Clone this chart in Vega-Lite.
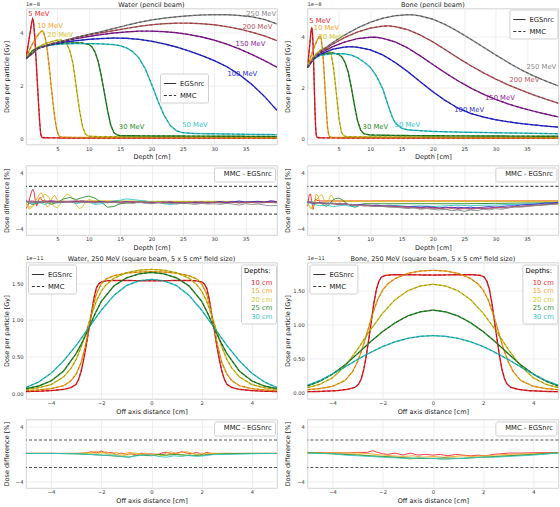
{
"$schema": "https://vega.github.io/schema/vega-lite/v6.json",
"padding": {"left": 3, "top": 0.5, "right": 0, "bottom": 0},
"config": {
 "font": "DejaVu Sans",
 "view": {"stroke": "#c8c8c8", "strokeWidth": 0.8},
 "axis": {"labelFontSize": 5.2, "titleFontSize": 6.5, "labelColor": "#333333", "titleColor": "#222222", "titleFontWeight": "normal", "gridColor": "#e6e6e6", "gridWidth": 0.7, "domain": false, "ticks": false, "tickSize": 0, "labelPadding": 3},
 "axisX": {"labelPadding": 1.5, "titlePadding": 2.5},
 "axisY": {"minExtent": 14.5, "maxExtent": 14.5, "titlePadding": 2},
 "title": {"fontSize": 6.5, "fontWeight": "normal", "color": "#222222", "offset": -6},
 "legend": {"labelFontSize": 6.8, "titleFontSize": 6.8, "titleFontWeight": "normal", "fillColor": "white", "strokeColor": "#d0d0d0", "padding": 3, "cornerRadius": 2, "labelColor": "#222222", "symbolStrokeColor": "#333333", "symbolBaseStrokeColor": "#333333", "symbolSize": 150, "symbolStrokeWidth": 1.2, "rowPadding": 1, "labelOffset": 3}
},
"datasets": {
 "wdd": [
  {"e":"5 MeV","x":0,"y":3.0},{"e":"5 MeV","x":0.5,"y":3.75},{"e":"5 MeV","x":0.9,"y":4.35},{"e":"5 MeV","x":1.05,"y":4.5},{"e":"5 MeV","x":1.2,"y":4.4},{"e":"5 MeV","x":1.4,"y":3.8},{"e":"5 MeV","x":1.6,"y":3.0},{"e":"5 MeV","x":1.8,"y":2.15},{"e":"5 MeV","x":2.0,"y":1.3},{"e":"5 MeV","x":2.2,"y":0.55},{"e":"5 MeV","x":2.35,"y":0.15},{"e":"5 MeV","x":2.5,"y":0.04},{"e":"5 MeV","x":2.8,"y":0.02},{"e":"5 MeV","x":5,"y":0.015},{"e":"5 MeV","x":10,"y":0.01},{"e":"5 MeV","x":20,"y":0.01},{"e":"5 MeV","x":30,"y":0.01},{"e":"5 MeV","x":40,"y":0.01},
  {"e":"10 MeV","x":0,"y":3.0},{"e":"10 MeV","x":0.5,"y":3.3},{"e":"10 MeV","x":1,"y":3.55},{"e":"10 MeV","x":1.5,"y":3.75},{"e":"10 MeV","x":2,"y":3.92},{"e":"10 MeV","x":2.4,"y":4.03},{"e":"10 MeV","x":2.6,"y":4.05},{"e":"10 MeV","x":2.8,"y":4.0},{"e":"10 MeV","x":3.1,"y":3.75},{"e":"10 MeV","x":3.4,"y":3.3},{"e":"10 MeV","x":3.7,"y":2.7},{"e":"10 MeV","x":4,"y":2.0},{"e":"10 MeV","x":4.3,"y":1.35},{"e":"10 MeV","x":4.6,"y":0.75},{"e":"10 MeV","x":4.9,"y":0.32},{"e":"10 MeV","x":5.2,"y":0.1},{"e":"10 MeV","x":5.5,"y":0.05},{"e":"10 MeV","x":6,"y":0.04},{"e":"10 MeV","x":10,"y":0.03},{"e":"10 MeV","x":20,"y":0.03},{"e":"10 MeV","x":30,"y":0.025},{"e":"10 MeV","x":40,"y":0.02},
  {"e":"20 MeV","x":0,"y":3.0},{"e":"20 MeV","x":1,"y":3.3},{"e":"20 MeV","x":2,"y":3.45},{"e":"20 MeV","x":3,"y":3.56},{"e":"20 MeV","x":4,"y":3.64},{"e":"20 MeV","x":5,"y":3.7},{"e":"20 MeV","x":5.5,"y":3.71},{"e":"20 MeV","x":6,"y":3.67},{"e":"20 MeV","x":6.5,"y":3.55},{"e":"20 MeV","x":7,"y":3.3},{"e":"20 MeV","x":7.5,"y":2.8},{"e":"20 MeV","x":8,"y":1.95},{"e":"20 MeV","x":8.5,"y":1.1},{"e":"20 MeV","x":9,"y":0.45},{"e":"20 MeV","x":9.5,"y":0.15},{"e":"20 MeV","x":10,"y":0.08},{"e":"20 MeV","x":12,"y":0.06},{"e":"20 MeV","x":20,"y":0.05},{"e":"20 MeV","x":30,"y":0.045},{"e":"20 MeV","x":40,"y":0.04},
  {"e":"30 MeV","x":0,"y":3.0},{"e":"30 MeV","x":1,"y":3.3},{"e":"30 MeV","x":2,"y":3.42},{"e":"30 MeV","x":4,"y":3.53},{"e":"30 MeV","x":6,"y":3.58},{"e":"30 MeV","x":8,"y":3.6},{"e":"30 MeV","x":9,"y":3.59},{"e":"30 MeV","x":10,"y":3.54},{"e":"30 MeV","x":10.5,"y":3.45},{"e":"30 MeV","x":11,"y":3.25},{"e":"30 MeV","x":11.5,"y":2.9},{"e":"30 MeV","x":12,"y":2.35},{"e":"30 MeV","x":12.5,"y":1.7},{"e":"30 MeV","x":13,"y":1.05},{"e":"30 MeV","x":13.5,"y":0.5},{"e":"30 MeV","x":14,"y":0.22},{"e":"30 MeV","x":14.5,"y":0.13},{"e":"30 MeV","x":15,"y":0.1},{"e":"30 MeV","x":20,"y":0.09},{"e":"30 MeV","x":30,"y":0.08},{"e":"30 MeV","x":40,"y":0.07},
  {"e":"50 MeV","x":0,"y":3.0},{"e":"50 MeV","x":2,"y":3.42},{"e":"50 MeV","x":4,"y":3.52},{"e":"50 MeV","x":6,"y":3.56},{"e":"50 MeV","x":8,"y":3.57},{"e":"50 MeV","x":10,"y":3.57},{"e":"50 MeV","x":12,"y":3.56},{"e":"50 MeV","x":14,"y":3.53},{"e":"50 MeV","x":15,"y":3.49},{"e":"50 MeV","x":16,"y":3.41},{"e":"50 MeV","x":17,"y":3.27},{"e":"50 MeV","x":18,"y":3.03},{"e":"50 MeV","x":19,"y":2.62},{"e":"50 MeV","x":20,"y":2.05},{"e":"50 MeV","x":21,"y":1.42},{"e":"50 MeV","x":22,"y":0.87},{"e":"50 MeV","x":23,"y":0.48},{"e":"50 MeV","x":24,"y":0.28},{"e":"50 MeV","x":25,"y":0.21},{"e":"50 MeV","x":27,"y":0.18},{"e":"50 MeV","x":30,"y":0.17},{"e":"50 MeV","x":35,"y":0.15},{"e":"50 MeV","x":40,"y":0.14},
  {"e":"100 MeV","x":0,"y":3.0},{"e":"100 MeV","x":2,"y":3.4},{"e":"100 MeV","x":4,"y":3.53},{"e":"100 MeV","x":6,"y":3.62},{"e":"100 MeV","x":8,"y":3.68},{"e":"100 MeV","x":10,"y":3.73},{"e":"100 MeV","x":12,"y":3.76},{"e":"100 MeV","x":14,"y":3.78},{"e":"100 MeV","x":16,"y":3.77},{"e":"100 MeV","x":18,"y":3.73},{"e":"100 MeV","x":20,"y":3.66},{"e":"100 MeV","x":22,"y":3.56},{"e":"100 MeV","x":24,"y":3.44},{"e":"100 MeV","x":26,"y":3.29},{"e":"100 MeV","x":28,"y":3.12},{"e":"100 MeV","x":30,"y":2.93},{"e":"100 MeV","x":32,"y":2.7},{"e":"100 MeV","x":34,"y":2.4},{"e":"100 MeV","x":36,"y":2.03},{"e":"100 MeV","x":38,"y":1.58},{"e":"100 MeV","x":40,"y":1.05},
  {"e":"150 MeV","x":0,"y":3.0},{"e":"150 MeV","x":2,"y":3.4},{"e":"150 MeV","x":4,"y":3.55},{"e":"150 MeV","x":6,"y":3.66},{"e":"150 MeV","x":8,"y":3.76},{"e":"150 MeV","x":10,"y":3.84},{"e":"150 MeV","x":12,"y":3.91},{"e":"150 MeV","x":14,"y":3.97},{"e":"150 MeV","x":16,"y":4.01},{"e":"150 MeV","x":18,"y":4.04},{"e":"150 MeV","x":20,"y":4.04},{"e":"150 MeV","x":22,"y":4.02},{"e":"150 MeV","x":24,"y":3.98},{"e":"150 MeV","x":26,"y":3.91},{"e":"150 MeV","x":28,"y":3.82},{"e":"150 MeV","x":30,"y":3.7},{"e":"150 MeV","x":32,"y":3.55},{"e":"150 MeV","x":34,"y":3.37},{"e":"150 MeV","x":36,"y":3.16},{"e":"150 MeV","x":38,"y":2.93},{"e":"150 MeV","x":40,"y":2.68},
  {"e":"200 MeV","x":0,"y":3.0},{"e":"200 MeV","x":2,"y":3.4},{"e":"200 MeV","x":4,"y":3.56},{"e":"200 MeV","x":6,"y":3.68},{"e":"200 MeV","x":8,"y":3.8},{"e":"200 MeV","x":10,"y":3.9},{"e":"200 MeV","x":12,"y":3.98},{"e":"200 MeV","x":14,"y":4.06},{"e":"200 MeV","x":16,"y":4.14},{"e":"200 MeV","x":18,"y":4.22},{"e":"200 MeV","x":20,"y":4.28},{"e":"200 MeV","x":22,"y":4.32},{"e":"200 MeV","x":24,"y":4.34},{"e":"200 MeV","x":26,"y":4.34},{"e":"200 MeV","x":28,"y":4.32},{"e":"200 MeV","x":30,"y":4.28},{"e":"200 MeV","x":32,"y":4.21},{"e":"200 MeV","x":34,"y":4.12},{"e":"200 MeV","x":36,"y":4.0},{"e":"200 MeV","x":38,"y":3.86},{"e":"200 MeV","x":40,"y":3.68},
  {"e":"250 MeV","x":0,"y":3.0},{"e":"250 MeV","x":2,"y":3.4},{"e":"250 MeV","x":4,"y":3.56},{"e":"250 MeV","x":6,"y":3.68},{"e":"250 MeV","x":8,"y":3.8},{"e":"250 MeV","x":10,"y":3.92},{"e":"250 MeV","x":12,"y":4.02},{"e":"250 MeV","x":14,"y":4.14},{"e":"250 MeV","x":16,"y":4.26},{"e":"250 MeV","x":18,"y":4.37},{"e":"250 MeV","x":20,"y":4.46},{"e":"250 MeV","x":22,"y":4.53},{"e":"250 MeV","x":24,"y":4.58},{"e":"250 MeV","x":26,"y":4.62},{"e":"250 MeV","x":28,"y":4.65},{"e":"250 MeV","x":30,"y":4.66},{"e":"250 MeV","x":32,"y":4.66},{"e":"250 MeV","x":34,"y":4.63},{"e":"250 MeV","x":36,"y":4.58},{"e":"250 MeV","x":38,"y":4.48},{"e":"250 MeV","x":40,"y":4.31}
 ],
 "bdd": [
  {"e":"5 MeV","x":0,"y":2.78},{"e":"5 MeV","x":0.2,"y":3.25},{"e":"5 MeV","x":0.4,"y":3.75},{"e":"5 MeV","x":0.55,"y":4.15},{"e":"5 MeV","x":0.68,"y":4.35},{"e":"5 MeV","x":0.8,"y":4.2},{"e":"5 MeV","x":0.9,"y":3.7},{"e":"5 MeV","x":1.0,"y":2.9},{"e":"5 MeV","x":1.1,"y":2.0},{"e":"5 MeV","x":1.2,"y":1.15},{"e":"5 MeV","x":1.3,"y":0.5},{"e":"5 MeV","x":1.4,"y":0.15},{"e":"5 MeV","x":1.5,"y":0.05},{"e":"5 MeV","x":1.8,"y":0.02},{"e":"5 MeV","x":5,"y":0.015},{"e":"5 MeV","x":20,"y":0.01},{"e":"5 MeV","x":40,"y":0.01},
  {"e":"10 MeV","x":0,"y":2.78},{"e":"10 MeV","x":0.4,"y":3.1},{"e":"10 MeV","x":0.8,"y":3.4},{"e":"10 MeV","x":1.2,"y":3.65},{"e":"10 MeV","x":1.6,"y":3.88},{"e":"10 MeV","x":1.9,"y":4.0},{"e":"10 MeV","x":2.05,"y":4.02},{"e":"10 MeV","x":2.2,"y":3.9},{"e":"10 MeV","x":2.4,"y":3.5},{"e":"10 MeV","x":2.6,"y":2.85},{"e":"10 MeV","x":2.8,"y":2.0},{"e":"10 MeV","x":3.0,"y":1.15},{"e":"10 MeV","x":3.2,"y":0.45},{"e":"10 MeV","x":3.4,"y":0.12},{"e":"10 MeV","x":3.6,"y":0.05},{"e":"10 MeV","x":4,"y":0.035},{"e":"10 MeV","x":10,"y":0.03},{"e":"10 MeV","x":20,"y":0.025},{"e":"10 MeV","x":40,"y":0.02},
  {"e":"20 MeV","x":0,"y":2.78},{"e":"20 MeV","x":0.5,"y":3.05},{"e":"20 MeV","x":1,"y":3.22},{"e":"20 MeV","x":1.5,"y":3.35},{"e":"20 MeV","x":2,"y":3.45},{"e":"20 MeV","x":2.5,"y":3.53},{"e":"20 MeV","x":3,"y":3.56},{"e":"20 MeV","x":3.4,"y":3.5},{"e":"20 MeV","x":3.8,"y":3.3},{"e":"20 MeV","x":4.2,"y":2.7},{"e":"20 MeV","x":4.6,"y":1.8},{"e":"20 MeV","x":5.0,"y":0.85},{"e":"20 MeV","x":5.4,"y":0.25},{"e":"20 MeV","x":5.8,"y":0.1},{"e":"20 MeV","x":6.2,"y":0.07},{"e":"20 MeV","x":7,"y":0.06},{"e":"20 MeV","x":10,"y":0.055},{"e":"20 MeV","x":20,"y":0.05},{"e":"20 MeV","x":40,"y":0.04},
  {"e":"30 MeV","x":0,"y":2.78},{"e":"30 MeV","x":1,"y":3.12},{"e":"30 MeV","x":2,"y":3.27},{"e":"30 MeV","x":3,"y":3.34},{"e":"30 MeV","x":4,"y":3.36},{"e":"30 MeV","x":5,"y":3.3},{"e":"30 MeV","x":5.5,"y":3.2},{"e":"30 MeV","x":6,"y":2.98},{"e":"30 MeV","x":6.5,"y":2.6},{"e":"30 MeV","x":7,"y":2.0},{"e":"30 MeV","x":7.5,"y":1.3},{"e":"30 MeV","x":8,"y":0.68},{"e":"30 MeV","x":8.5,"y":0.32},{"e":"30 MeV","x":9,"y":0.18},{"e":"30 MeV","x":10,"y":0.13},{"e":"30 MeV","x":15,"y":0.11},{"e":"30 MeV","x":20,"y":0.1},{"e":"30 MeV","x":30,"y":0.09},{"e":"30 MeV","x":40,"y":0.08},
  {"e":"50 MeV","x":0,"y":2.78},{"e":"50 MeV","x":1,"y":3.12},{"e":"50 MeV","x":2,"y":3.26},{"e":"50 MeV","x":4,"y":3.33},{"e":"50 MeV","x":6,"y":3.32},{"e":"50 MeV","x":7,"y":3.27},{"e":"50 MeV","x":8,"y":3.17},{"e":"50 MeV","x":9,"y":3.0},{"e":"50 MeV","x":10,"y":2.8},{"e":"50 MeV","x":11,"y":2.45},{"e":"50 MeV","x":12,"y":1.95},{"e":"50 MeV","x":13,"y":1.2},{"e":"50 MeV","x":13.5,"y":0.85},{"e":"50 MeV","x":14,"y":0.6},{"e":"50 MeV","x":15,"y":0.4},{"e":"50 MeV","x":16,"y":0.33},{"e":"50 MeV","x":18,"y":0.3},{"e":"50 MeV","x":20,"y":0.27},{"e":"50 MeV","x":25,"y":0.24},{"e":"50 MeV","x":30,"y":0.22},{"e":"50 MeV","x":35,"y":0.2},{"e":"50 MeV","x":40,"y":0.18},
  {"e":"100 MeV","x":0,"y":2.78},{"e":"100 MeV","x":1,"y":3.12},{"e":"100 MeV","x":2,"y":3.3},{"e":"100 MeV","x":4,"y":3.5},{"e":"100 MeV","x":6,"y":3.59},{"e":"100 MeV","x":7,"y":3.6},{"e":"100 MeV","x":8,"y":3.58},{"e":"100 MeV","x":10,"y":3.48},{"e":"100 MeV","x":12,"y":3.28},{"e":"100 MeV","x":14,"y":2.98},{"e":"100 MeV","x":16,"y":2.62},{"e":"100 MeV","x":18,"y":2.22},{"e":"100 MeV","x":20,"y":1.83},{"e":"100 MeV","x":22,"y":1.48},{"e":"100 MeV","x":24,"y":1.19},{"e":"100 MeV","x":26,"y":0.98},{"e":"100 MeV","x":28,"y":0.84},{"e":"100 MeV","x":30,"y":0.73},{"e":"100 MeV","x":32,"y":0.65},{"e":"100 MeV","x":34,"y":0.58},{"e":"100 MeV","x":36,"y":0.53},{"e":"100 MeV","x":38,"y":0.48},{"e":"100 MeV","x":40,"y":0.44},
  {"e":"150 MeV","x":0,"y":2.78},{"e":"150 MeV","x":1,"y":3.15},{"e":"150 MeV","x":2,"y":3.35},{"e":"150 MeV","x":4,"y":3.6},{"e":"150 MeV","x":6,"y":3.79},{"e":"150 MeV","x":8,"y":3.92},{"e":"150 MeV","x":10,"y":3.97},{"e":"150 MeV","x":11,"y":3.97},{"e":"150 MeV","x":12,"y":3.93},{"e":"150 MeV","x":14,"y":3.79},{"e":"150 MeV","x":16,"y":3.55},{"e":"150 MeV","x":18,"y":3.24},{"e":"150 MeV","x":20,"y":2.9},{"e":"150 MeV","x":22,"y":2.57},{"e":"150 MeV","x":24,"y":2.26},{"e":"150 MeV","x":26,"y":1.98},{"e":"150 MeV","x":28,"y":1.74},{"e":"150 MeV","x":30,"y":1.53},{"e":"150 MeV","x":32,"y":1.35},{"e":"150 MeV","x":34,"y":1.2},{"e":"150 MeV","x":36,"y":1.07},{"e":"150 MeV","x":38,"y":0.95},{"e":"150 MeV","x":40,"y":0.84},
  {"e":"200 MeV","x":0,"y":2.78},{"e":"200 MeV","x":1,"y":3.15},{"e":"200 MeV","x":2,"y":3.38},{"e":"200 MeV","x":4,"y":3.7},{"e":"200 MeV","x":6,"y":3.97},{"e":"200 MeV","x":8,"y":4.18},{"e":"200 MeV","x":10,"y":4.33},{"e":"200 MeV","x":12,"y":4.41},{"e":"200 MeV","x":13,"y":4.42},{"e":"200 MeV","x":14,"y":4.39},{"e":"200 MeV","x":16,"y":4.27},{"e":"200 MeV","x":18,"y":4.06},{"e":"200 MeV","x":20,"y":3.79},{"e":"200 MeV","x":22,"y":3.48},{"e":"200 MeV","x":24,"y":3.16},{"e":"200 MeV","x":26,"y":2.86},{"e":"200 MeV","x":28,"y":2.58},{"e":"200 MeV","x":30,"y":2.33},{"e":"200 MeV","x":32,"y":2.1},{"e":"200 MeV","x":34,"y":1.9},{"e":"200 MeV","x":36,"y":1.71},{"e":"200 MeV","x":38,"y":1.54},{"e":"200 MeV","x":40,"y":1.38},
  {"e":"250 MeV","x":0,"y":2.78},{"e":"250 MeV","x":1,"y":3.16},{"e":"250 MeV","x":2,"y":3.4},{"e":"250 MeV","x":4,"y":3.76},{"e":"250 MeV","x":6,"y":4.07},{"e":"250 MeV","x":8,"y":4.34},{"e":"250 MeV","x":10,"y":4.56},{"e":"250 MeV","x":12,"y":4.72},{"e":"250 MeV","x":14,"y":4.82},{"e":"250 MeV","x":16,"y":4.86},{"e":"250 MeV","x":17,"y":4.85},{"e":"250 MeV","x":18,"y":4.81},{"e":"250 MeV","x":20,"y":4.68},{"e":"250 MeV","x":22,"y":4.47},{"e":"250 MeV","x":24,"y":4.2},{"e":"250 MeV","x":26,"y":3.9},{"e":"250 MeV","x":28,"y":3.59},{"e":"250 MeV","x":30,"y":3.28},{"e":"250 MeV","x":32,"y":2.98},{"e":"250 MeV","x":34,"y":2.7},{"e":"250 MeV","x":36,"y":2.46},{"e":"250 MeV","x":38,"y":2.25},{"e":"250 MeV","x":40,"y":2.06}
 ],
 "wlab": [
  {"e":"5 MeV","x":0.37,"y":4.69},{"e":"10 MeV","x":1.8,"y":4.24},{"e":"20 MeV","x":3.4,"y":3.9},{"e":"30 MeV","x":14.8,"y":0.43},{"e":"50 MeV","x":24.9,"y":0.49},{"e":"100 MeV","x":32.1,"y":2.43},{"e":"150 MeV","x":33.4,"y":3.56},{"e":"200 MeV","x":34.5,"y":4.19},{"e":"250 MeV","x":35.1,"y":4.69}
 ],
 "blab": [
  {"e":"5 MeV","x":0.31,"y":4.61},{"e":"10 MeV","x":1.0,"y":4.32},{"e":"20 MeV","x":1.75,"y":3.99},{"e":"30 MeV","x":8.8,"y":0.43},{"e":"50 MeV","x":13.9,"y":0.54},{"e":"100 MeV","x":23.4,"y":1.13},{"e":"150 MeV","x":28.3,"y":1.6},{"e":"200 MeV","x":32.2,"y":2.28},{"e":"250 MeV","x":34.9,"y":2.8}
 ],
 "wdf": [
  {"e":"5 MeV","x":0,"y":-1.2},{"e":"5 MeV","x":0.3,"y":-0.8},{"e":"5 MeV","x":0.6,"y":0.3},{"e":"5 MeV","x":0.9,"y":1.3},{"e":"5 MeV","x":1.1,"y":1.6},{"e":"5 MeV","x":1.3,"y":1.1},{"e":"5 MeV","x":1.5,"y":-0.2},{"e":"5 MeV","x":1.7,"y":-0.8},{"e":"5 MeV","x":1.9,"y":-0.4},{"e":"5 MeV","x":2.1,"y":0.3},{"e":"5 MeV","x":2.3,"y":0.4},{"e":"5 MeV","x":2.5,"y":0.0},{"e":"5 MeV","x":3,"y":-0.1},{"e":"5 MeV","x":5,"y":-0.15},{"e":"5 MeV","x":10,"y":-0.15},{"e":"5 MeV","x":15,"y":-0.2},{"e":"5 MeV","x":20,"y":-0.2},{"e":"5 MeV","x":25,"y":-0.2},{"e":"5 MeV","x":30,"y":-0.2},{"e":"5 MeV","x":35,"y":-0.2},{"e":"5 MeV","x":40,"y":-0.2},
  {"e":"10 MeV","x":0,"y":-0.4},{"e":"10 MeV","x":0.5,"y":-1.0},{"e":"10 MeV","x":1.0,"y":-0.9},{"e":"10 MeV","x":1.5,"y":-0.2},{"e":"10 MeV","x":2.0,"y":0.7},{"e":"10 MeV","x":2.4,"y":1.1},{"e":"10 MeV","x":2.8,"y":0.5},{"e":"10 MeV","x":3.1,"y":-0.5},{"e":"10 MeV","x":3.4,"y":-1.0},{"e":"10 MeV","x":3.8,"y":-0.6},{"e":"10 MeV","x":4.2,"y":0.4},{"e":"10 MeV","x":4.6,"y":0.7},{"e":"10 MeV","x":5.0,"y":0.0},{"e":"10 MeV","x":5.5,"y":-0.3},{"e":"10 MeV","x":6,"y":-0.2},{"e":"10 MeV","x":10,"y":-0.1},{"e":"10 MeV","x":15,"y":-0.15},{"e":"10 MeV","x":20,"y":-0.2},{"e":"10 MeV","x":25,"y":-0.2},{"e":"10 MeV","x":30,"y":-0.2},{"e":"10 MeV","x":35,"y":-0.2},{"e":"10 MeV","x":40,"y":-0.2},
  {"e":"20 MeV","x":0,"y":-0.5},{"e":"20 MeV","x":0.5,"y":-1.3},{"e":"20 MeV","x":1.0,"y":-1.0},{"e":"20 MeV","x":1.5,"y":-0.5},{"e":"20 MeV","x":2.0,"y":0.1},{"e":"20 MeV","x":2.5,"y":0.4},{"e":"20 MeV","x":3.0,"y":0.9},{"e":"20 MeV","x":3.5,"y":0.6},{"e":"20 MeV","x":4.0,"y":-0.2},{"e":"20 MeV","x":4.5,"y":-0.9},{"e":"20 MeV","x":5.0,"y":-1.1},{"e":"20 MeV","x":5.5,"y":-0.5},{"e":"20 MeV","x":6.0,"y":0.4},{"e":"20 MeV","x":6.5,"y":0.9},{"e":"20 MeV","x":7.0,"y":0.7},{"e":"20 MeV","x":7.5,"y":0.2},{"e":"20 MeV","x":8.0,"y":-0.7},{"e":"20 MeV","x":8.5,"y":-1.2},{"e":"20 MeV","x":9.0,"y":-1.0},{"e":"20 MeV","x":9.5,"y":-0.2},{"e":"20 MeV","x":10,"y":0.1},{"e":"20 MeV","x":11,"y":-0.1},{"e":"20 MeV","x":15,"y":-0.1},{"e":"20 MeV","x":20,"y":-0.15},{"e":"20 MeV","x":30,"y":-0.15},{"e":"20 MeV","x":40,"y":-0.2},
  {"e":"30 MeV","x":0,"y":-0.2},{"e":"30 MeV","x":1,"y":-0.6},{"e":"30 MeV","x":2,"y":-0.4},{"e":"30 MeV","x":3,"y":-0.1},{"e":"30 MeV","x":4,"y":-0.6},{"e":"30 MeV","x":5,"y":-0.3},{"e":"30 MeV","x":6,"y":0.2},{"e":"30 MeV","x":7,"y":0.4},{"e":"30 MeV","x":8,"y":0.1},{"e":"30 MeV","x":9,"y":0.4},{"e":"30 MeV","x":10,"y":0.6},{"e":"30 MeV","x":11,"y":0.3},{"e":"30 MeV","x":12,"y":-0.3},{"e":"30 MeV","x":13,"y":-1.0},{"e":"30 MeV","x":14,"y":-0.9},{"e":"30 MeV","x":15,"y":-0.5},{"e":"30 MeV","x":16,"y":-0.4},{"e":"30 MeV","x":18,"y":-0.3},{"e":"30 MeV","x":20,"y":-0.3},{"e":"30 MeV","x":25,"y":-0.3},{"e":"30 MeV","x":30,"y":-0.3},{"e":"30 MeV","x":35,"y":-0.3},{"e":"30 MeV","x":40,"y":-0.3},
  {"e":"50 MeV","x":0,"y":-0.1},{"e":"50 MeV","x":1,"y":-0.5},{"e":"50 MeV","x":2,"y":-0.3},{"e":"50 MeV","x":3,"y":-0.6},{"e":"50 MeV","x":4,"y":-0.2},{"e":"50 MeV","x":5,"y":-0.4},{"e":"50 MeV","x":6,"y":-0.3},{"e":"50 MeV","x":7,"y":-0.2},{"e":"50 MeV","x":8,"y":-0.5},{"e":"50 MeV","x":9,"y":-0.3},{"e":"50 MeV","x":10,"y":-0.3},{"e":"50 MeV","x":11,"y":-0.6},{"e":"50 MeV","x":12,"y":-0.5},{"e":"50 MeV","x":13,"y":-0.3},{"e":"50 MeV","x":14,"y":-0.1},{"e":"50 MeV","x":15,"y":0.0},{"e":"50 MeV","x":16,"y":0.2},{"e":"50 MeV","x":17,"y":0.1},{"e":"50 MeV","x":18,"y":0.0},{"e":"50 MeV","x":19,"y":-0.1},{"e":"50 MeV","x":20,"y":-0.3},{"e":"50 MeV","x":21,"y":-0.3},{"e":"50 MeV","x":22,"y":-0.5},{"e":"50 MeV","x":23,"y":-0.6},{"e":"50 MeV","x":24,"y":-0.5},{"e":"50 MeV","x":25,"y":-0.4},{"e":"50 MeV","x":26,"y":-0.4},{"e":"50 MeV","x":27,"y":-0.3},{"e":"50 MeV","x":28,"y":-0.4},{"e":"50 MeV","x":29,"y":-0.3},{"e":"50 MeV","x":30,"y":-0.3},{"e":"50 MeV","x":31,"y":-0.4},{"e":"50 MeV","x":32,"y":-0.3},{"e":"50 MeV","x":33,"y":-0.2},{"e":"50 MeV","x":34,"y":-0.3},{"e":"50 MeV","x":35,"y":-0.3},{"e":"50 MeV","x":36,"y":-0.2},{"e":"50 MeV","x":37,"y":-0.3},{"e":"50 MeV","x":38,"y":-0.3},{"e":"50 MeV","x":39,"y":-0.2},{"e":"50 MeV","x":40,"y":-0.3},
  {"e":"100 MeV","x":0,"y":-0.1},{"e":"100 MeV","x":1,"y":-0.3},{"e":"100 MeV","x":2,"y":-0.2},{"e":"100 MeV","x":3,"y":-0.25},{"e":"100 MeV","x":4,"y":-0.1},{"e":"100 MeV","x":5,"y":-0.2},{"e":"100 MeV","x":6,"y":-0.3},{"e":"100 MeV","x":7,"y":-0.15},{"e":"100 MeV","x":8,"y":-0.2},{"e":"100 MeV","x":9,"y":-0.1},{"e":"100 MeV","x":10,"y":-0.25},{"e":"100 MeV","x":11,"y":-0.3},{"e":"100 MeV","x":12,"y":-0.2},{"e":"100 MeV","x":13,"y":-0.35},{"e":"100 MeV","x":14,"y":-0.25},{"e":"100 MeV","x":15,"y":-0.3},{"e":"100 MeV","x":16,"y":-0.2},{"e":"100 MeV","x":17,"y":-0.35},{"e":"100 MeV","x":18,"y":-0.25},{"e":"100 MeV","x":19,"y":-0.4},{"e":"100 MeV","x":20,"y":-0.3},{"e":"100 MeV","x":21,"y":-0.35},{"e":"100 MeV","x":22,"y":-0.25},{"e":"100 MeV","x":23,"y":-0.4},{"e":"100 MeV","x":24,"y":-0.3},{"e":"100 MeV","x":25,"y":-0.45},{"e":"100 MeV","x":26,"y":-0.3},{"e":"100 MeV","x":27,"y":-0.35},{"e":"100 MeV","x":28,"y":-0.25},{"e":"100 MeV","x":29,"y":-0.4},{"e":"100 MeV","x":30,"y":-0.3},{"e":"100 MeV","x":31,"y":-0.2},{"e":"100 MeV","x":32,"y":-0.35},{"e":"100 MeV","x":33,"y":-0.25},{"e":"100 MeV","x":34,"y":-0.1},{"e":"100 MeV","x":35,"y":-0.3},{"e":"100 MeV","x":36,"y":-0.2},{"e":"100 MeV","x":37,"y":-0.15},{"e":"100 MeV","x":38,"y":-0.3},{"e":"100 MeV","x":39,"y":-0.1},{"e":"100 MeV","x":40,"y":-0.2},
  {"e":"150 MeV","x":0,"y":-0.2},{"e":"150 MeV","x":1,"y":-0.1},{"e":"150 MeV","x":2,"y":-0.3},{"e":"150 MeV","x":3,"y":-0.2},{"e":"150 MeV","x":4,"y":-0.15},{"e":"150 MeV","x":5,"y":-0.3},{"e":"150 MeV","x":6,"y":-0.2},{"e":"150 MeV","x":7,"y":-0.25},{"e":"150 MeV","x":8,"y":-0.1},{"e":"150 MeV","x":9,"y":-0.3},{"e":"150 MeV","x":10,"y":-0.2},{"e":"150 MeV","x":11,"y":-0.35},{"e":"150 MeV","x":12,"y":-0.25},{"e":"150 MeV","x":13,"y":-0.3},{"e":"150 MeV","x":14,"y":-0.2},{"e":"150 MeV","x":15,"y":-0.35},{"e":"150 MeV","x":16,"y":-0.3},{"e":"150 MeV","x":17,"y":-0.2},{"e":"150 MeV","x":18,"y":-0.35},{"e":"150 MeV","x":19,"y":-0.25},{"e":"150 MeV","x":20,"y":-0.4},{"e":"150 MeV","x":21,"y":-0.3},{"e":"150 MeV","x":22,"y":-0.35},{"e":"150 MeV","x":23,"y":-0.2},{"e":"150 MeV","x":24,"y":-0.4},{"e":"150 MeV","x":25,"y":-0.3},{"e":"150 MeV","x":26,"y":-0.35},{"e":"150 MeV","x":27,"y":-0.25},{"e":"150 MeV","x":28,"y":-0.4},{"e":"150 MeV","x":29,"y":-0.3},{"e":"150 MeV","x":30,"y":-0.35},{"e":"150 MeV","x":31,"y":-0.25},{"e":"150 MeV","x":32,"y":-0.3},{"e":"150 MeV","x":33,"y":-0.2},{"e":"150 MeV","x":34,"y":-0.35},{"e":"150 MeV","x":35,"y":-0.25},{"e":"150 MeV","x":36,"y":-0.3},{"e":"150 MeV","x":37,"y":-0.2},{"e":"150 MeV","x":38,"y":-0.25},{"e":"150 MeV","x":39,"y":-0.1},{"e":"150 MeV","x":40,"y":-0.2},
  {"e":"200 MeV","x":0,"y":-0.15},{"e":"200 MeV","x":1,"y":-0.25},{"e":"200 MeV","x":2,"y":-0.2},{"e":"200 MeV","x":3,"y":-0.3},{"e":"200 MeV","x":4,"y":-0.2},{"e":"200 MeV","x":5,"y":-0.25},{"e":"200 MeV","x":6,"y":-0.15},{"e":"200 MeV","x":7,"y":-0.3},{"e":"200 MeV","x":8,"y":-0.25},{"e":"200 MeV","x":9,"y":-0.2},{"e":"200 MeV","x":10,"y":-0.3},{"e":"200 MeV","x":11,"y":-0.2},{"e":"200 MeV","x":12,"y":-0.35},{"e":"200 MeV","x":13,"y":-0.25},{"e":"200 MeV","x":14,"y":-0.3},{"e":"200 MeV","x":15,"y":-0.4},{"e":"200 MeV","x":16,"y":-0.3},{"e":"200 MeV","x":17,"y":-0.35},{"e":"200 MeV","x":18,"y":-0.25},{"e":"200 MeV","x":19,"y":-0.3},{"e":"200 MeV","x":20,"y":-0.4},{"e":"200 MeV","x":21,"y":-0.35},{"e":"200 MeV","x":22,"y":-0.3},{"e":"200 MeV","x":23,"y":-0.45},{"e":"200 MeV","x":24,"y":-0.35},{"e":"200 MeV","x":25,"y":-0.4},{"e":"200 MeV","x":26,"y":-0.3},{"e":"200 MeV","x":27,"y":-0.45},{"e":"200 MeV","x":28,"y":-0.35},{"e":"200 MeV","x":29,"y":-0.4},{"e":"200 MeV","x":30,"y":-0.3},{"e":"200 MeV","x":31,"y":-0.35},{"e":"200 MeV","x":32,"y":-0.45},{"e":"200 MeV","x":33,"y":-0.3},{"e":"200 MeV","x":34,"y":-0.4},{"e":"200 MeV","x":35,"y":-0.35},{"e":"200 MeV","x":36,"y":-0.3},{"e":"200 MeV","x":37,"y":-0.4},{"e":"200 MeV","x":38,"y":-0.35},{"e":"200 MeV","x":39,"y":-0.3},{"e":"200 MeV","x":40,"y":-0.4},
  {"e":"250 MeV","x":0,"y":-0.2},{"e":"250 MeV","x":1,"y":-0.3},{"e":"250 MeV","x":2,"y":-0.25},{"e":"250 MeV","x":3,"y":-0.2},{"e":"250 MeV","x":4,"y":-0.35},{"e":"250 MeV","x":5,"y":-0.25},{"e":"250 MeV","x":6,"y":-0.3},{"e":"250 MeV","x":7,"y":-0.2},{"e":"250 MeV","x":8,"y":-0.35},{"e":"250 MeV","x":9,"y":-0.3},{"e":"250 MeV","x":10,"y":-0.25},{"e":"250 MeV","x":11,"y":-0.4},{"e":"250 MeV","x":12,"y":-0.3},{"e":"250 MeV","x":13,"y":-0.35},{"e":"250 MeV","x":14,"y":-0.25},{"e":"250 MeV","x":15,"y":-0.4},{"e":"250 MeV","x":16,"y":-0.35},{"e":"250 MeV","x":17,"y":-0.45},{"e":"250 MeV","x":18,"y":-0.3},{"e":"250 MeV","x":19,"y":-0.4},{"e":"250 MeV","x":20,"y":-0.5},{"e":"250 MeV","x":21,"y":-0.35},{"e":"250 MeV","x":22,"y":-0.45},{"e":"250 MeV","x":23,"y":-0.4},{"e":"250 MeV","x":24,"y":-0.55},{"e":"250 MeV","x":25,"y":-0.4},{"e":"250 MeV","x":26,"y":-0.5},{"e":"250 MeV","x":27,"y":-0.6},{"e":"250 MeV","x":28,"y":-0.45},{"e":"250 MeV","x":29,"y":-0.55},{"e":"250 MeV","x":30,"y":-0.5},{"e":"250 MeV","x":31,"y":-0.6},{"e":"250 MeV","x":32,"y":-0.45},{"e":"250 MeV","x":33,"y":-0.55},{"e":"250 MeV","x":34,"y":-0.7},{"e":"250 MeV","x":35,"y":-0.5},{"e":"250 MeV","x":36,"y":-0.6},{"e":"250 MeV","x":37,"y":-0.55},{"e":"250 MeV","x":38,"y":-0.7},{"e":"250 MeV","x":39,"y":-0.8},{"e":"250 MeV","x":40,"y":-0.75}
 ],
 "bdf": [
  {"e":"5 MeV","x":0,"y":-0.9},{"e":"5 MeV","x":0.3,"y":0.8},{"e":"5 MeV","x":0.5,"y":0.9},{"e":"5 MeV","x":0.7,"y":-0.2},{"e":"5 MeV","x":0.9,"y":-1.3},{"e":"5 MeV","x":1.1,"y":-0.5},{"e":"5 MeV","x":1.3,"y":0.2},{"e":"5 MeV","x":1.5,"y":0.0},{"e":"5 MeV","x":2,"y":-0.1},{"e":"5 MeV","x":5,"y":-0.1},{"e":"5 MeV","x":10,"y":-0.1},{"e":"5 MeV","x":20,"y":-0.1},{"e":"5 MeV","x":30,"y":-0.1},{"e":"5 MeV","x":40,"y":-0.1},
  {"e":"10 MeV","x":0,"y":-0.5},{"e":"10 MeV","x":0.4,"y":-0.9},{"e":"10 MeV","x":0.8,"y":-1.3},{"e":"10 MeV","x":1.1,"y":-0.4},{"e":"10 MeV","x":1.4,"y":0.9},{"e":"10 MeV","x":1.7,"y":0.6},{"e":"10 MeV","x":2.0,"y":-0.3},{"e":"10 MeV","x":2.4,"y":-0.6},{"e":"10 MeV","x":2.8,"y":-0.2},{"e":"10 MeV","x":3.2,"y":-0.1},{"e":"10 MeV","x":4,"y":-0.1},{"e":"10 MeV","x":10,"y":-0.1},{"e":"10 MeV","x":20,"y":-0.1},{"e":"10 MeV","x":30,"y":-0.1},{"e":"10 MeV","x":40,"y":-0.1},
  {"e":"20 MeV","x":0,"y":-0.3},{"e":"20 MeV","x":0.5,"y":-1.2},{"e":"20 MeV","x":1.0,"y":-0.8},{"e":"20 MeV","x":1.5,"y":0.1},{"e":"20 MeV","x":2.0,"y":0.7},{"e":"20 MeV","x":2.3,"y":0.8},{"e":"20 MeV","x":2.7,"y":0.0},{"e":"20 MeV","x":3.0,"y":-0.7},{"e":"20 MeV","x":3.3,"y":-0.4},{"e":"20 MeV","x":3.6,"y":0.6},{"e":"20 MeV","x":3.9,"y":0.7},{"e":"20 MeV","x":4.3,"y":0.0},{"e":"20 MeV","x":4.7,"y":-0.6},{"e":"20 MeV","x":5.2,"y":-0.3},{"e":"20 MeV","x":5.8,"y":-0.1},{"e":"20 MeV","x":7,"y":-0.2},{"e":"20 MeV","x":10,"y":-0.2},{"e":"20 MeV","x":20,"y":-0.2},{"e":"20 MeV","x":30,"y":-0.2},{"e":"20 MeV","x":40,"y":-0.2},
  {"e":"30 MeV","x":0,"y":-0.2},{"e":"30 MeV","x":1,"y":-0.4},{"e":"30 MeV","x":2,"y":-0.3},{"e":"30 MeV","x":2.5,"y":-0.6},{"e":"30 MeV","x":3,"y":-0.9},{"e":"30 MeV","x":3.5,"y":-0.6},{"e":"30 MeV","x":4,"y":0.0},{"e":"30 MeV","x":4.5,"y":0.25},{"e":"30 MeV","x":5,"y":0.3},{"e":"30 MeV","x":5.5,"y":0.1},{"e":"30 MeV","x":6,"y":-0.3},{"e":"30 MeV","x":6.5,"y":-0.6},{"e":"30 MeV","x":7,"y":-0.8},{"e":"30 MeV","x":7.5,"y":-1.0},{"e":"30 MeV","x":8,"y":-0.9},{"e":"30 MeV","x":8.5,"y":-0.6},{"e":"30 MeV","x":9,"y":-0.5},{"e":"30 MeV","x":10,"y":-0.5},{"e":"30 MeV","x":12,"y":-0.5},{"e":"30 MeV","x":15,"y":-0.5},{"e":"30 MeV","x":20,"y":-0.5},{"e":"30 MeV","x":25,"y":-0.5},{"e":"30 MeV","x":30,"y":-0.45},{"e":"30 MeV","x":35,"y":-0.4},{"e":"30 MeV","x":40,"y":-0.35},
  {"e":"50 MeV","x":0,"y":-0.3},{"e":"50 MeV","x":1,"y":-0.6},{"e":"50 MeV","x":2,"y":-0.8},{"e":"50 MeV","x":3,"y":-0.7},{"e":"50 MeV","x":4,"y":-0.9},{"e":"50 MeV","x":5,"y":-0.8},{"e":"50 MeV","x":6,"y":-0.7},{"e":"50 MeV","x":7,"y":-0.9},{"e":"50 MeV","x":8,"y":-0.8},{"e":"50 MeV","x":9,"y":-0.7},{"e":"50 MeV","x":10,"y":-0.8},{"e":"50 MeV","x":11,"y":-0.9},{"e":"50 MeV","x":12,"y":-0.8},{"e":"50 MeV","x":13,"y":-0.7},{"e":"50 MeV","x":14,"y":-0.8},{"e":"50 MeV","x":15,"y":-0.8},{"e":"50 MeV","x":16,"y":-0.9},{"e":"50 MeV","x":18,"y":-0.8},{"e":"50 MeV","x":20,"y":-0.9},{"e":"50 MeV","x":22,"y":-0.8},{"e":"50 MeV","x":24,"y":-0.7},{"e":"50 MeV","x":26,"y":-0.8},{"e":"50 MeV","x":28,"y":-0.7},{"e":"50 MeV","x":30,"y":-0.7},{"e":"50 MeV","x":32,"y":-0.6},{"e":"50 MeV","x":34,"y":-0.6},{"e":"50 MeV","x":36,"y":-0.5},{"e":"50 MeV","x":38,"y":-0.5},{"e":"50 MeV","x":40,"y":-0.4},
  {"e":"100 MeV","x":0,"y":-0.3},{"e":"100 MeV","x":1,"y":-0.4},{"e":"100 MeV","x":2,"y":-0.3},{"e":"100 MeV","x":3,"y":-0.5},{"e":"100 MeV","x":4,"y":-0.4},{"e":"100 MeV","x":5,"y":-0.6},{"e":"100 MeV","x":6,"y":-0.5},{"e":"100 MeV","x":7,"y":-0.7},{"e":"100 MeV","x":8,"y":-0.6},{"e":"100 MeV","x":9,"y":-0.7},{"e":"100 MeV","x":10,"y":-0.8},{"e":"100 MeV","x":11,"y":-0.7},{"e":"100 MeV","x":12,"y":-0.8},{"e":"100 MeV","x":13,"y":-0.9},{"e":"100 MeV","x":14,"y":-0.8},{"e":"100 MeV","x":15,"y":-0.9},{"e":"100 MeV","x":16,"y":-1.0},{"e":"100 MeV","x":17,"y":-0.9},{"e":"100 MeV","x":18,"y":-1.0},{"e":"100 MeV","x":19,"y":-0.9},{"e":"100 MeV","x":20,"y":-1.0},{"e":"100 MeV","x":21,"y":-1.1},{"e":"100 MeV","x":22,"y":-1.0},{"e":"100 MeV","x":23,"y":-1.1},{"e":"100 MeV","x":24,"y":-1.0},{"e":"100 MeV","x":25,"y":-1.1},{"e":"100 MeV","x":26,"y":-1.0},{"e":"100 MeV","x":27,"y":-1.1},{"e":"100 MeV","x":28,"y":-1.0},{"e":"100 MeV","x":29,"y":-0.9},{"e":"100 MeV","x":30,"y":-1.0},{"e":"100 MeV","x":31,"y":-0.9},{"e":"100 MeV","x":32,"y":-0.8},{"e":"100 MeV","x":33,"y":-0.8},{"e":"100 MeV","x":34,"y":-0.7},{"e":"100 MeV","x":35,"y":-0.6},{"e":"100 MeV","x":36,"y":-0.6},{"e":"100 MeV","x":37,"y":-0.5},{"e":"100 MeV","x":38,"y":-0.4},{"e":"100 MeV","x":39,"y":-0.4},{"e":"100 MeV","x":40,"y":-0.3},
  {"e":"150 MeV","x":0,"y":-0.2},{"e":"150 MeV","x":1,"y":-0.4},{"e":"150 MeV","x":2,"y":-0.4},{"e":"150 MeV","x":3,"y":-0.5},{"e":"150 MeV","x":4,"y":-0.5},{"e":"150 MeV","x":5,"y":-0.5},{"e":"150 MeV","x":6,"y":-0.6},{"e":"150 MeV","x":7,"y":-0.6},{"e":"150 MeV","x":8,"y":-0.7},{"e":"150 MeV","x":9,"y":-0.7},{"e":"150 MeV","x":10,"y":-0.7},{"e":"150 MeV","x":11,"y":-0.8},{"e":"150 MeV","x":12,"y":-0.9},{"e":"150 MeV","x":13,"y":-0.8},{"e":"150 MeV","x":14,"y":-0.9},{"e":"150 MeV","x":15,"y":-1.0},{"e":"150 MeV","x":16,"y":-0.9},{"e":"150 MeV","x":17,"y":-1.1},{"e":"150 MeV","x":18,"y":-1.0},{"e":"150 MeV","x":19,"y":-1.1},{"e":"150 MeV","x":20,"y":-1.0},{"e":"150 MeV","x":21,"y":-1.2},{"e":"150 MeV","x":22,"y":-1.1},{"e":"150 MeV","x":23,"y":-1.0},{"e":"150 MeV","x":24,"y":-1.2},{"e":"150 MeV","x":25,"y":-1.1},{"e":"150 MeV","x":26,"y":-1.2},{"e":"150 MeV","x":27,"y":-1.1},{"e":"150 MeV","x":28,"y":-1.2},{"e":"150 MeV","x":29,"y":-1.1},{"e":"150 MeV","x":30,"y":-1.0},{"e":"150 MeV","x":31,"y":-1.1},{"e":"150 MeV","x":32,"y":-1.0},{"e":"150 MeV","x":33,"y":-0.9},{"e":"150 MeV","x":34,"y":-0.9},{"e":"150 MeV","x":35,"y":-0.8},{"e":"150 MeV","x":36,"y":-0.7},{"e":"150 MeV","x":37,"y":-0.7},{"e":"150 MeV","x":38,"y":-0.6},{"e":"150 MeV","x":39,"y":-0.5},{"e":"150 MeV","x":40,"y":-0.5},
  {"e":"200 MeV","x":0,"y":-0.2},{"e":"200 MeV","x":1,"y":-0.3},{"e":"200 MeV","x":2,"y":-0.4},{"e":"200 MeV","x":3,"y":-0.4},{"e":"200 MeV","x":4,"y":-0.5},{"e":"200 MeV","x":5,"y":-0.6},{"e":"200 MeV","x":6,"y":-0.5},{"e":"200 MeV","x":7,"y":-0.7},{"e":"200 MeV","x":8,"y":-0.7},{"e":"200 MeV","x":9,"y":-0.8},{"e":"200 MeV","x":10,"y":-0.8},{"e":"200 MeV","x":11,"y":-0.9},{"e":"200 MeV","x":12,"y":-0.8},{"e":"200 MeV","x":13,"y":-0.9},{"e":"200 MeV","x":14,"y":-1.0},{"e":"200 MeV","x":15,"y":-0.9},{"e":"200 MeV","x":16,"y":-1.1},{"e":"200 MeV","x":17,"y":-1.0},{"e":"200 MeV","x":18,"y":-1.2},{"e":"200 MeV","x":19,"y":-1.1},{"e":"200 MeV","x":20,"y":-1.2},{"e":"200 MeV","x":21,"y":-1.1},{"e":"200 MeV","x":22,"y":-1.3},{"e":"200 MeV","x":23,"y":-1.2},{"e":"200 MeV","x":24,"y":-1.3},{"e":"200 MeV","x":25,"y":-1.2},{"e":"200 MeV","x":26,"y":-1.3},{"e":"200 MeV","x":27,"y":-1.2},{"e":"200 MeV","x":28,"y":-1.1},{"e":"200 MeV","x":29,"y":-1.2},{"e":"200 MeV","x":30,"y":-1.1},{"e":"200 MeV","x":31,"y":-1.0},{"e":"200 MeV","x":32,"y":-1.1},{"e":"200 MeV","x":33,"y":-0.9},{"e":"200 MeV","x":34,"y":-0.9},{"e":"200 MeV","x":35,"y":-0.8},{"e":"200 MeV","x":36,"y":-0.8},{"e":"200 MeV","x":37,"y":-0.7},{"e":"200 MeV","x":38,"y":-0.6},{"e":"200 MeV","x":39,"y":-0.6},{"e":"200 MeV","x":40,"y":-0.5},
  {"e":"250 MeV","x":0,"y":-0.2},{"e":"250 MeV","x":1,"y":-0.3},{"e":"250 MeV","x":2,"y":-0.4},{"e":"250 MeV","x":3,"y":-0.4},{"e":"250 MeV","x":4,"y":-0.5},{"e":"250 MeV","x":5,"y":-0.5},{"e":"250 MeV","x":6,"y":-0.6},{"e":"250 MeV","x":7,"y":-0.6},{"e":"250 MeV","x":8,"y":-0.7},{"e":"250 MeV","x":9,"y":-0.8},{"e":"250 MeV","x":10,"y":-0.8},{"e":"250 MeV","x":11,"y":-0.9},{"e":"250 MeV","x":12,"y":-0.9},{"e":"250 MeV","x":13,"y":-1.0},{"e":"250 MeV","x":14,"y":-1.0},{"e":"250 MeV","x":15,"y":-1.1},{"e":"250 MeV","x":16,"y":-1.2},{"e":"250 MeV","x":17,"y":-1.1},{"e":"250 MeV","x":18,"y":-1.3},{"e":"250 MeV","x":19,"y":-1.2},{"e":"250 MeV","x":20,"y":-1.3},{"e":"250 MeV","x":21,"y":-1.4},{"e":"250 MeV","x":22,"y":-1.3},{"e":"250 MeV","x":23,"y":-1.5},{"e":"250 MeV","x":24,"y":-1.4},{"e":"250 MeV","x":25,"y":-1.6},{"e":"250 MeV","x":26,"y":-1.4},{"e":"250 MeV","x":27,"y":-1.5},{"e":"250 MeV","x":28,"y":-1.3},{"e":"250 MeV","x":29,"y":-1.4},{"e":"250 MeV","x":30,"y":-1.2},{"e":"250 MeV","x":31,"y":-1.3},{"e":"250 MeV","x":32,"y":-1.1},{"e":"250 MeV","x":33,"y":-1.0},{"e":"250 MeV","x":34,"y":-1.0},{"e":"250 MeV","x":35,"y":-0.9},{"e":"250 MeV","x":36,"y":-0.8},{"e":"250 MeV","x":37,"y":-0.7},{"e":"250 MeV","x":38,"y":-0.7},{"e":"250 MeV","x":39,"y":-0.6},{"e":"250 MeV","x":40,"y":-0.5}
 ],
 "wpr": [
  {"e":"10 cm","x":-5,"y":0.02},{"e":"10 cm","x":-4.5,"y":0.025},{"e":"10 cm","x":-4,"y":0.033},{"e":"10 cm","x":-3.5,"y":0.05},{"e":"10 cm","x":-3.2,"y":0.075},{"e":"10 cm","x":-3,"y":0.12},{"e":"10 cm","x":-2.9,"y":0.19},{"e":"10 cm","x":-2.8,"y":0.3},{"e":"10 cm","x":-2.7,"y":0.46},{"e":"10 cm","x":-2.6,"y":0.65},{"e":"10 cm","x":-2.5,"y":0.86},{"e":"10 cm","x":-2.4,"y":1.07},{"e":"10 cm","x":-2.3,"y":1.28},{"e":"10 cm","x":-2.2,"y":1.43},{"e":"10 cm","x":-2.1,"y":1.49},{"e":"10 cm","x":-2,"y":1.515},{"e":"10 cm","x":-1.8,"y":1.53},{"e":"10 cm","x":-1.5,"y":1.535},{"e":"10 cm","x":-1,"y":1.535},{"e":"10 cm","x":-0.5,"y":1.532},{"e":"10 cm","x":0,"y":1.53},{"e":"10 cm","x":0.5,"y":1.532},{"e":"10 cm","x":1,"y":1.535},{"e":"10 cm","x":1.5,"y":1.535},{"e":"10 cm","x":1.8,"y":1.53},{"e":"10 cm","x":2,"y":1.515},{"e":"10 cm","x":2.1,"y":1.49},{"e":"10 cm","x":2.2,"y":1.43},{"e":"10 cm","x":2.3,"y":1.28},{"e":"10 cm","x":2.4,"y":1.07},{"e":"10 cm","x":2.5,"y":0.86},{"e":"10 cm","x":2.6,"y":0.65},{"e":"10 cm","x":2.7,"y":0.46},{"e":"10 cm","x":2.8,"y":0.3},{"e":"10 cm","x":2.9,"y":0.19},{"e":"10 cm","x":3,"y":0.12},{"e":"10 cm","x":3.2,"y":0.075},{"e":"10 cm","x":3.5,"y":0.05},{"e":"10 cm","x":4,"y":0.033},{"e":"10 cm","x":4.5,"y":0.025},{"e":"10 cm","x":5,"y":0.02},
  {"e":"15 cm","x":-5,"y":0.032},{"e":"15 cm","x":-4.5,"y":0.042},{"e":"15 cm","x":-4,"y":0.06},{"e":"15 cm","x":-3.5,"y":0.1},{"e":"15 cm","x":-3.2,"y":0.17},{"e":"15 cm","x":-3,"y":0.26},{"e":"15 cm","x":-2.8,"y":0.42},{"e":"15 cm","x":-2.65,"y":0.62},{"e":"15 cm","x":-2.5,"y":0.88},{"e":"15 cm","x":-2.35,"y":1.15},{"e":"15 cm","x":-2.2,"y":1.35},{"e":"15 cm","x":-2,"y":1.49},{"e":"15 cm","x":-1.8,"y":1.555},{"e":"15 cm","x":-1.5,"y":1.6},{"e":"15 cm","x":-1,"y":1.635},{"e":"15 cm","x":-0.5,"y":1.65},{"e":"15 cm","x":0,"y":1.655},{"e":"15 cm","x":0.5,"y":1.65},{"e":"15 cm","x":1,"y":1.635},{"e":"15 cm","x":1.5,"y":1.6},{"e":"15 cm","x":1.8,"y":1.555},{"e":"15 cm","x":2,"y":1.49},{"e":"15 cm","x":2.2,"y":1.35},{"e":"15 cm","x":2.35,"y":1.15},{"e":"15 cm","x":2.5,"y":0.88},{"e":"15 cm","x":2.65,"y":0.62},{"e":"15 cm","x":2.8,"y":0.42},{"e":"15 cm","x":3,"y":0.26},{"e":"15 cm","x":3.2,"y":0.17},{"e":"15 cm","x":3.5,"y":0.1},{"e":"15 cm","x":4,"y":0.06},{"e":"15 cm","x":4.5,"y":0.042},{"e":"15 cm","x":5,"y":0.032},
  {"e":"20 cm","x":-5,"y":0.05},{"e":"20 cm","x":-4.5,"y":0.072},{"e":"20 cm","x":-4,"y":0.115},{"e":"20 cm","x":-3.5,"y":0.22},{"e":"20 cm","x":-3.2,"y":0.34},{"e":"20 cm","x":-3,"y":0.46},{"e":"20 cm","x":-2.8,"y":0.63},{"e":"20 cm","x":-2.6,"y":0.84},{"e":"20 cm","x":-2.4,"y":1.06},{"e":"20 cm","x":-2.2,"y":1.25},{"e":"20 cm","x":-2,"y":1.39},{"e":"20 cm","x":-1.8,"y":1.48},{"e":"20 cm","x":-1.5,"y":1.565},{"e":"20 cm","x":-1,"y":1.64},{"e":"20 cm","x":-0.5,"y":1.675},{"e":"20 cm","x":0,"y":1.685},{"e":"20 cm","x":0.5,"y":1.675},{"e":"20 cm","x":1,"y":1.64},{"e":"20 cm","x":1.5,"y":1.565},{"e":"20 cm","x":1.8,"y":1.48},{"e":"20 cm","x":2,"y":1.39},{"e":"20 cm","x":2.2,"y":1.25},{"e":"20 cm","x":2.4,"y":1.06},{"e":"20 cm","x":2.6,"y":0.84},{"e":"20 cm","x":2.8,"y":0.63},{"e":"20 cm","x":3,"y":0.46},{"e":"20 cm","x":3.2,"y":0.34},{"e":"20 cm","x":3.5,"y":0.22},{"e":"20 cm","x":4,"y":0.115},{"e":"20 cm","x":4.5,"y":0.072},{"e":"20 cm","x":5,"y":0.05},
  {"e":"25 cm","x":-5,"y":0.06},{"e":"25 cm","x":-4.5,"y":0.095},{"e":"25 cm","x":-4,"y":0.165},{"e":"25 cm","x":-3.5,"y":0.3},{"e":"25 cm","x":-3,"y":0.54},{"e":"25 cm","x":-2.75,"y":0.7},{"e":"25 cm","x":-2.5,"y":0.88},{"e":"25 cm","x":-2.25,"y":1.08},{"e":"25 cm","x":-2,"y":1.25},{"e":"25 cm","x":-1.5,"y":1.46},{"e":"25 cm","x":-1,"y":1.57},{"e":"25 cm","x":-0.5,"y":1.625},{"e":"25 cm","x":0,"y":1.645},{"e":"25 cm","x":0.5,"y":1.625},{"e":"25 cm","x":1,"y":1.57},{"e":"25 cm","x":1.5,"y":1.46},{"e":"25 cm","x":2,"y":1.25},{"e":"25 cm","x":2.25,"y":1.08},{"e":"25 cm","x":2.5,"y":0.88},{"e":"25 cm","x":2.75,"y":0.7},{"e":"25 cm","x":3,"y":0.54},{"e":"25 cm","x":3.5,"y":0.3},{"e":"25 cm","x":4,"y":0.165},{"e":"25 cm","x":4.5,"y":0.095},{"e":"25 cm","x":5,"y":0.06},
  {"e":"30 cm","x":-5,"y":0.075},{"e":"30 cm","x":-4.5,"y":0.15},{"e":"30 cm","x":-4,"y":0.27},{"e":"30 cm","x":-3.5,"y":0.44},{"e":"30 cm","x":-3,"y":0.65},{"e":"30 cm","x":-2.5,"y":0.89},{"e":"30 cm","x":-2,"y":1.13},{"e":"30 cm","x":-1.5,"y":1.33},{"e":"30 cm","x":-1,"y":1.465},{"e":"30 cm","x":-0.5,"y":1.53},{"e":"30 cm","x":0,"y":1.55},{"e":"30 cm","x":0.5,"y":1.53},{"e":"30 cm","x":1,"y":1.465},{"e":"30 cm","x":1.5,"y":1.33},{"e":"30 cm","x":2,"y":1.13},{"e":"30 cm","x":2.5,"y":0.89},{"e":"30 cm","x":3,"y":0.65},{"e":"30 cm","x":3.5,"y":0.44},{"e":"30 cm","x":4,"y":0.27},{"e":"30 cm","x":4.5,"y":0.15},{"e":"30 cm","x":5,"y":0.075}
 ],
 "bpr": [
  {"e":"10 cm","x":-5,"y":0.016},{"e":"10 cm","x":-4.5,"y":0.02},{"e":"10 cm","x":-3.8,"y":0.032},{"e":"10 cm","x":-3.4,"y":0.05},{"e":"10 cm","x":-3.1,"y":0.08},{"e":"10 cm","x":-2.95,"y":0.13},{"e":"10 cm","x":-2.85,"y":0.21},{"e":"10 cm","x":-2.75,"y":0.35},{"e":"10 cm","x":-2.65,"y":0.55},{"e":"10 cm","x":-2.55,"y":0.8},{"e":"10 cm","x":-2.45,"y":1.06},{"e":"10 cm","x":-2.35,"y":1.32},{"e":"10 cm","x":-2.25,"y":1.52},{"e":"10 cm","x":-2.15,"y":1.64},{"e":"10 cm","x":-2.05,"y":1.7},{"e":"10 cm","x":-1.9,"y":1.725},{"e":"10 cm","x":-1.6,"y":1.735},{"e":"10 cm","x":-1,"y":1.735},{"e":"10 cm","x":0,"y":1.73},{"e":"10 cm","x":1,"y":1.735},{"e":"10 cm","x":1.6,"y":1.735},{"e":"10 cm","x":1.9,"y":1.725},{"e":"10 cm","x":2.05,"y":1.7},{"e":"10 cm","x":2.15,"y":1.64},{"e":"10 cm","x":2.25,"y":1.52},{"e":"10 cm","x":2.35,"y":1.32},{"e":"10 cm","x":2.45,"y":1.06},{"e":"10 cm","x":2.55,"y":0.8},{"e":"10 cm","x":2.65,"y":0.55},{"e":"10 cm","x":2.75,"y":0.35},{"e":"10 cm","x":2.85,"y":0.21},{"e":"10 cm","x":2.95,"y":0.13},{"e":"10 cm","x":3.1,"y":0.08},{"e":"10 cm","x":3.4,"y":0.05},{"e":"10 cm","x":3.8,"y":0.032},{"e":"10 cm","x":4.5,"y":0.02},{"e":"10 cm","x":5,"y":0.016},
  {"e":"15 cm","x":-5,"y":0.045},{"e":"15 cm","x":-4.5,"y":0.062},{"e":"15 cm","x":-4,"y":0.095},{"e":"15 cm","x":-3.5,"y":0.18},{"e":"15 cm","x":-3.2,"y":0.31},{"e":"15 cm","x":-3,"y":0.46},{"e":"15 cm","x":-2.8,"y":0.66},{"e":"15 cm","x":-2.6,"y":0.91},{"e":"15 cm","x":-2.4,"y":1.16},{"e":"15 cm","x":-2.2,"y":1.37},{"e":"15 cm","x":-2,"y":1.51},{"e":"15 cm","x":-1.8,"y":1.6},{"e":"15 cm","x":-1.5,"y":1.68},{"e":"15 cm","x":-1,"y":1.755},{"e":"15 cm","x":-0.5,"y":1.79},{"e":"15 cm","x":0,"y":1.8},{"e":"15 cm","x":0.5,"y":1.79},{"e":"15 cm","x":1,"y":1.755},{"e":"15 cm","x":1.5,"y":1.68},{"e":"15 cm","x":1.8,"y":1.6},{"e":"15 cm","x":2,"y":1.51},{"e":"15 cm","x":2.2,"y":1.37},{"e":"15 cm","x":2.4,"y":1.16},{"e":"15 cm","x":2.6,"y":0.91},{"e":"15 cm","x":2.8,"y":0.66},{"e":"15 cm","x":3,"y":0.46},{"e":"15 cm","x":3.2,"y":0.31},{"e":"15 cm","x":3.5,"y":0.18},{"e":"15 cm","x":4,"y":0.095},{"e":"15 cm","x":4.5,"y":0.062},{"e":"15 cm","x":5,"y":0.045},
  {"e":"20 cm","x":-5,"y":0.075},{"e":"20 cm","x":-4.5,"y":0.125},{"e":"20 cm","x":-4,"y":0.22},{"e":"20 cm","x":-3.5,"y":0.39},{"e":"20 cm","x":-3,"y":0.64},{"e":"20 cm","x":-2.5,"y":0.92},{"e":"20 cm","x":-2,"y":1.17},{"e":"20 cm","x":-1.5,"y":1.37},{"e":"20 cm","x":-1,"y":1.5},{"e":"20 cm","x":-0.5,"y":1.57},{"e":"20 cm","x":0,"y":1.595},{"e":"20 cm","x":0.5,"y":1.57},{"e":"20 cm","x":1,"y":1.5},{"e":"20 cm","x":1.5,"y":1.37},{"e":"20 cm","x":2,"y":1.17},{"e":"20 cm","x":2.5,"y":0.92},{"e":"20 cm","x":3,"y":0.64},{"e":"20 cm","x":3.5,"y":0.39},{"e":"20 cm","x":4,"y":0.22},{"e":"20 cm","x":4.5,"y":0.125},{"e":"20 cm","x":5,"y":0.075},
  {"e":"25 cm","x":-5,"y":0.1},{"e":"25 cm","x":-4.5,"y":0.17},{"e":"25 cm","x":-4,"y":0.275},{"e":"25 cm","x":-3.5,"y":0.41},{"e":"25 cm","x":-3,"y":0.575},{"e":"25 cm","x":-2.5,"y":0.745},{"e":"25 cm","x":-2,"y":0.9},{"e":"25 cm","x":-1.5,"y":1.03},{"e":"25 cm","x":-1,"y":1.13},{"e":"25 cm","x":-0.5,"y":1.19},{"e":"25 cm","x":0,"y":1.215},{"e":"25 cm","x":0.5,"y":1.19},{"e":"25 cm","x":1,"y":1.13},{"e":"25 cm","x":1.5,"y":1.03},{"e":"25 cm","x":2,"y":0.9},{"e":"25 cm","x":2.5,"y":0.745},{"e":"25 cm","x":3,"y":0.575},{"e":"25 cm","x":3.5,"y":0.41},{"e":"25 cm","x":4,"y":0.275},{"e":"25 cm","x":4.5,"y":0.17},{"e":"25 cm","x":5,"y":0.1},
  {"e":"30 cm","x":-5,"y":0.11},{"e":"30 cm","x":-4.5,"y":0.18},{"e":"30 cm","x":-4,"y":0.275},{"e":"30 cm","x":-3.5,"y":0.38},{"e":"30 cm","x":-3,"y":0.49},{"e":"30 cm","x":-2.5,"y":0.59},{"e":"30 cm","x":-2,"y":0.68},{"e":"30 cm","x":-1.5,"y":0.75},{"e":"30 cm","x":-1,"y":0.8},{"e":"30 cm","x":-0.5,"y":0.83},{"e":"30 cm","x":0,"y":0.84},{"e":"30 cm","x":0.5,"y":0.83},{"e":"30 cm","x":1,"y":0.8},{"e":"30 cm","x":1.5,"y":0.75},{"e":"30 cm","x":2,"y":0.68},{"e":"30 cm","x":2.5,"y":0.59},{"e":"30 cm","x":3,"y":0.49},{"e":"30 cm","x":3.5,"y":0.38},{"e":"30 cm","x":4,"y":0.275},{"e":"30 cm","x":4.5,"y":0.18},{"e":"30 cm","x":5,"y":0.11}
 ],
 "wpd": [
  {"e":"10 cm","x":-5,"y":0.05},{"e":"10 cm","x":-4,"y":0.05},{"e":"10 cm","x":-3,"y":0.05},{"e":"10 cm","x":-2.6,"y":0.1},{"e":"10 cm","x":-2.4,"y":0.3},{"e":"10 cm","x":-2.2,"y":0.1},{"e":"10 cm","x":-2.0,"y":0.4},{"e":"10 cm","x":-1.8,"y":0.1},{"e":"10 cm","x":-1.6,"y":0.2},{"e":"10 cm","x":-1.4,"y":-0.1},{"e":"10 cm","x":-1.2,"y":0.1},{"e":"10 cm","x":-1.0,"y":-0.1},{"e":"10 cm","x":-0.8,"y":0.0},{"e":"10 cm","x":-0.6,"y":-0.2},{"e":"10 cm","x":-0.4,"y":0.1},{"e":"10 cm","x":-0.2,"y":-0.1},{"e":"10 cm","x":0,"y":0.0},{"e":"10 cm","x":0.2,"y":-0.2},{"e":"10 cm","x":0.4,"y":0.1},{"e":"10 cm","x":0.6,"y":0.2},{"e":"10 cm","x":0.8,"y":0.0},{"e":"10 cm","x":1.0,"y":0.1},{"e":"10 cm","x":1.2,"y":0.3},{"e":"10 cm","x":1.4,"y":0.1},{"e":"10 cm","x":1.6,"y":0.0},{"e":"10 cm","x":1.8,"y":0.2},{"e":"10 cm","x":2.0,"y":-0.1},{"e":"10 cm","x":2.2,"y":0.2},{"e":"10 cm","x":2.4,"y":0.0},{"e":"10 cm","x":2.6,"y":0.05},{"e":"10 cm","x":3,"y":0.05},{"e":"10 cm","x":4,"y":0.05},{"e":"10 cm","x":5,"y":0.05},
  {"e":"15 cm","x":-5,"y":0.05},{"e":"15 cm","x":-4,"y":0.05},{"e":"15 cm","x":-3,"y":0.05},{"e":"15 cm","x":-2.6,"y":0.1},{"e":"15 cm","x":-2.4,"y":0.2},{"e":"15 cm","x":-2.2,"y":0.35},{"e":"15 cm","x":-2.0,"y":0.1},{"e":"15 cm","x":-1.8,"y":0.3},{"e":"15 cm","x":-1.6,"y":0.0},{"e":"15 cm","x":-1.4,"y":0.2},{"e":"15 cm","x":-1.2,"y":-0.1},{"e":"15 cm","x":-1.0,"y":0.1},{"e":"15 cm","x":-0.8,"y":0.2},{"e":"15 cm","x":-0.6,"y":0.0},{"e":"15 cm","x":-0.4,"y":-0.1},{"e":"15 cm","x":-0.2,"y":0.1},{"e":"15 cm","x":0,"y":-0.1},{"e":"15 cm","x":0.2,"y":0.0},{"e":"15 cm","x":0.4,"y":-0.2},{"e":"15 cm","x":0.6,"y":0.1},{"e":"15 cm","x":0.8,"y":0.3},{"e":"15 cm","x":1.0,"y":0.0},{"e":"15 cm","x":1.2,"y":0.2},{"e":"15 cm","x":1.4,"y":0.3},{"e":"15 cm","x":1.6,"y":0.1},{"e":"15 cm","x":1.8,"y":-0.1},{"e":"15 cm","x":2.0,"y":0.1},{"e":"15 cm","x":2.2,"y":0.0},{"e":"15 cm","x":2.4,"y":0.1},{"e":"15 cm","x":2.6,"y":0.05},{"e":"15 cm","x":3,"y":0.05},{"e":"15 cm","x":4,"y":0.05},{"e":"15 cm","x":5,"y":0.05},
  {"e":"20 cm","x":-5,"y":0.05},{"e":"20 cm","x":-4,"y":0.05},{"e":"20 cm","x":-3,"y":0.0},{"e":"20 cm","x":-2.5,"y":0.1},{"e":"20 cm","x":-2.2,"y":-0.1},{"e":"20 cm","x":-2.0,"y":0.2},{"e":"20 cm","x":-1.8,"y":0.0},{"e":"20 cm","x":-1.6,"y":-0.2},{"e":"20 cm","x":-1.4,"y":-0.1},{"e":"20 cm","x":-1.2,"y":-0.3},{"e":"20 cm","x":-1.0,"y":-0.2},{"e":"20 cm","x":-0.8,"y":-0.1},{"e":"20 cm","x":-0.6,"y":0.1},{"e":"20 cm","x":-0.4,"y":-0.1},{"e":"20 cm","x":-0.2,"y":-0.3},{"e":"20 cm","x":0,"y":-0.2},{"e":"20 cm","x":0.2,"y":-0.1},{"e":"20 cm","x":0.4,"y":-0.3},{"e":"20 cm","x":0.6,"y":-0.2},{"e":"20 cm","x":0.8,"y":0.0},{"e":"20 cm","x":1.0,"y":-0.1},{"e":"20 cm","x":1.2,"y":-0.2},{"e":"20 cm","x":1.4,"y":0.0},{"e":"20 cm","x":1.6,"y":-0.2},{"e":"20 cm","x":1.8,"y":-0.1},{"e":"20 cm","x":2.0,"y":-0.3},{"e":"20 cm","x":2.2,"y":-0.1},{"e":"20 cm","x":2.5,"y":0.0},{"e":"20 cm","x":3,"y":0.05},{"e":"20 cm","x":4,"y":0.05},{"e":"20 cm","x":5,"y":0.05},
  {"e":"25 cm","x":-5,"y":0.05},{"e":"25 cm","x":-4,"y":0.05},{"e":"25 cm","x":-3,"y":0.0},{"e":"25 cm","x":-2.5,"y":-0.1},{"e":"25 cm","x":-2.0,"y":-0.2},{"e":"25 cm","x":-1.6,"y":-0.3},{"e":"25 cm","x":-1.2,"y":-0.4},{"e":"25 cm","x":-0.9,"y":-0.5},{"e":"25 cm","x":-0.7,"y":-0.3},{"e":"25 cm","x":-0.4,"y":-0.2},{"e":"25 cm","x":0,"y":-0.3},{"e":"25 cm","x":0.3,"y":-0.1},{"e":"25 cm","x":0.6,"y":-0.2},{"e":"25 cm","x":1.0,"y":-0.1},{"e":"25 cm","x":1.3,"y":-0.2},{"e":"25 cm","x":1.6,"y":-0.3},{"e":"25 cm","x":2.0,"y":-0.2},{"e":"25 cm","x":2.4,"y":-0.1},{"e":"25 cm","x":3,"y":0.0},{"e":"25 cm","x":4,"y":0.05},{"e":"25 cm","x":5,"y":0.05},
  {"e":"30 cm","x":-5,"y":0.05},{"e":"30 cm","x":-4,"y":0.05},{"e":"30 cm","x":-3,"y":0.0},{"e":"30 cm","x":-2.5,"y":-0.1},{"e":"30 cm","x":-2.0,"y":-0.2},{"e":"30 cm","x":-1.6,"y":-0.2},{"e":"30 cm","x":-1.2,"y":-0.4},{"e":"30 cm","x":-0.9,"y":-0.5},{"e":"30 cm","x":-0.6,"y":-0.3},{"e":"30 cm","x":-0.3,"y":-0.2},{"e":"30 cm","x":0,"y":-0.2},{"e":"30 cm","x":0.3,"y":-0.4},{"e":"30 cm","x":0.6,"y":-0.5},{"e":"30 cm","x":0.9,"y":-0.3},{"e":"30 cm","x":1.2,"y":-0.4},{"e":"30 cm","x":1.5,"y":-0.2},{"e":"30 cm","x":1.8,"y":-0.4},{"e":"30 cm","x":2.1,"y":-0.3},{"e":"30 cm","x":2.5,"y":-0.1},{"e":"30 cm","x":3,"y":-0.1},{"e":"30 cm","x":4,"y":0.0},{"e":"30 cm","x":5,"y":0.05}
 ],
 "bpd": [
  {"e":"10 cm","x":-5,"y":0.15},{"e":"10 cm","x":-4,"y":0.15},{"e":"10 cm","x":-3.5,"y":0.1},{"e":"10 cm","x":-3,"y":0.2},{"e":"10 cm","x":-2.6,"y":0.2},{"e":"10 cm","x":-2.4,"y":0.45},{"e":"10 cm","x":-2.2,"y":0.2},{"e":"10 cm","x":-2.0,"y":0.0},{"e":"10 cm","x":-1.8,"y":-0.1},{"e":"10 cm","x":-1.5,"y":0.1},{"e":"10 cm","x":-1.2,"y":-0.2},{"e":"10 cm","x":-0.9,"y":0.1},{"e":"10 cm","x":-0.6,"y":-0.2},{"e":"10 cm","x":-0.3,"y":-0.1},{"e":"10 cm","x":0,"y":-0.2},{"e":"10 cm","x":0.3,"y":-0.1},{"e":"10 cm","x":0.6,"y":-0.3},{"e":"10 cm","x":0.9,"y":-0.1},{"e":"10 cm","x":1.2,"y":-0.2},{"e":"10 cm","x":1.5,"y":-0.3},{"e":"10 cm","x":1.8,"y":-0.2},{"e":"10 cm","x":2.1,"y":-0.3},{"e":"10 cm","x":2.4,"y":-0.1},{"e":"10 cm","x":2.7,"y":0.0},{"e":"10 cm","x":3,"y":0.1},{"e":"10 cm","x":3.5,"y":0.1},{"e":"10 cm","x":4,"y":0.15},{"e":"10 cm","x":5,"y":0.15},
  {"e":"15 cm","x":-5,"y":0.15},{"e":"15 cm","x":-4,"y":0.15},{"e":"15 cm","x":-3,"y":0.1},{"e":"15 cm","x":-2.5,"y":0.0},{"e":"15 cm","x":-2.0,"y":-0.2},{"e":"15 cm","x":-1.6,"y":-0.3},{"e":"15 cm","x":-1.2,"y":-0.4},{"e":"15 cm","x":-0.8,"y":-0.3},{"e":"15 cm","x":-0.4,"y":-0.5},{"e":"15 cm","x":0,"y":-0.4},{"e":"15 cm","x":0.4,"y":-0.5},{"e":"15 cm","x":0.8,"y":-0.4},{"e":"15 cm","x":1.2,"y":-0.3},{"e":"15 cm","x":1.6,"y":-0.4},{"e":"15 cm","x":2.0,"y":-0.3},{"e":"15 cm","x":2.5,"y":-0.2},{"e":"15 cm","x":3,"y":-0.1},{"e":"15 cm","x":4,"y":0.0},{"e":"15 cm","x":5,"y":0.1},
  {"e":"20 cm","x":-5,"y":0.1},{"e":"20 cm","x":-4,"y":0.0},{"e":"20 cm","x":-3,"y":-0.1},{"e":"20 cm","x":-2.5,"y":-0.3},{"e":"20 cm","x":-2,"y":-0.4},{"e":"20 cm","x":-1.6,"y":-0.5},{"e":"20 cm","x":-1.2,"y":-0.6},{"e":"20 cm","x":-0.9,"y":-0.8},{"e":"20 cm","x":-0.6,"y":-0.6},{"e":"20 cm","x":-0.3,"y":-0.7},{"e":"20 cm","x":0,"y":-0.6},{"e":"20 cm","x":0.3,"y":-0.8},{"e":"20 cm","x":0.6,"y":-0.7},{"e":"20 cm","x":0.9,"y":-0.6},{"e":"20 cm","x":1.2,"y":-0.7},{"e":"20 cm","x":1.6,"y":-0.5},{"e":"20 cm","x":2,"y":-0.5},{"e":"20 cm","x":2.5,"y":-0.4},{"e":"20 cm","x":3,"y":-0.3},{"e":"20 cm","x":4,"y":-0.1},{"e":"20 cm","x":5,"y":0.1},
  {"e":"25 cm","x":-5,"y":0.15},{"e":"25 cm","x":-4,"y":0.0},{"e":"25 cm","x":-3,"y":-0.2},{"e":"25 cm","x":-2.5,"y":-0.3},{"e":"25 cm","x":-2,"y":-0.4},{"e":"25 cm","x":-1.5,"y":-0.5},{"e":"25 cm","x":-1,"y":-0.6},{"e":"25 cm","x":-0.5,"y":-0.7},{"e":"25 cm","x":0,"y":-0.7},{"e":"25 cm","x":0.5,"y":-0.6},{"e":"25 cm","x":1,"y":-0.7},{"e":"25 cm","x":1.5,"y":-0.6},{"e":"25 cm","x":2,"y":-0.5},{"e":"25 cm","x":2.5,"y":-0.4},{"e":"25 cm","x":3,"y":-0.3},{"e":"25 cm","x":4,"y":-0.1},{"e":"25 cm","x":5,"y":0.15},
  {"e":"30 cm","x":-5,"y":0.1},{"e":"30 cm","x":-4,"y":0.0},{"e":"30 cm","x":-3.5,"y":-0.2},{"e":"30 cm","x":-3,"y":-0.3},{"e":"30 cm","x":-2.5,"y":-0.4},{"e":"30 cm","x":-2,"y":-0.5},{"e":"30 cm","x":-1.5,"y":-0.6},{"e":"30 cm","x":-1,"y":-0.7},{"e":"30 cm","x":-0.5,"y":-0.6},{"e":"30 cm","x":0,"y":-0.7},{"e":"30 cm","x":0.5,"y":-0.8},{"e":"30 cm","x":1,"y":-0.7},{"e":"30 cm","x":1.5,"y":-0.6},{"e":"30 cm","x":2,"y":-0.5},{"e":"30 cm","x":2.5,"y":-0.5},{"e":"30 cm","x":3,"y":-0.4},{"e":"30 cm","x":3.5,"y":-0.3},{"e":"30 cm","x":4,"y":-0.2},{"e":"30 cm","x":5,"y":0.1}
 ]
},
"spacing": 3,
"resolve": {"scale": {"color": "independent", "strokeDash": "independent"}, "legend": {"color": "independent", "strokeDash": "independent"}},
"vconcat": [
 {"hconcat": [
  {"width": 251, "height": 136, "title": "Water (pencil beam)",
   "layer": [
    {"data": {"name": "wdd"}, "mark": {"type": "line", "strokeWidth": 1.4, "clip": true},
     "encoding": {
      "x": {"field": "x", "type": "quantitative", "scale": {"domain": [0, 40], "nice": false, "zero": false}, "axis": {"title": "Depth [cm]", "values": [5, 10, 15, 20, 25, 30, 35]}},
      "y": {"field": "y", "type": "quantitative", "scale": {"domain": [-0.233, 4.893], "nice": false, "zero": false}, "axis": {"title": "Dose per particle [Gy]", "values": [0, 1, 2, 3, 4]}},
      "color": {"field": "e", "type": "nominal", "scale": {"domain": ["5 MeV","10 MeV","20 MeV","30 MeV","50 MeV","100 MeV","150 MeV","200 MeV","250 MeV"], "range": ["#e8282d","#f5a52a","#d2c62c","#2e8b2e","#33c4c6","#2f2fd6","#8c2299","#b85a5e","#8a8a8a"]}, "legend": null},
      "strokeDash": {"datum": "EGSnrc", "type": "nominal", "scale": {"domain": ["EGSnrc", "MMC"], "range": [[1, 0], [3, 2]]}, "legend": {"title": null, "orient": "none", "legendX": 134, "legendY": 65}}
     }},
    {"data": {"name": "wdd"}, "mark": {"type": "line", "strokeWidth": 0.9, "clip": true},
     "encoding": {
      "x": {"field": "x", "type": "quantitative"},
      "y": {"field": "y", "type": "quantitative"},
      "color": {"field": "e", "type": "nominal", "scale": {"domain": ["5 MeV","10 MeV","20 MeV","30 MeV","50 MeV","100 MeV","150 MeV","200 MeV","250 MeV"], "range": ["#a8141a","#b8770f","#958c12","#1a5c1a","#1a8a8c","#161690","#5c0f68","#823a3e","#4f4f4f"]}, "legend": null},
      "strokeDash": {"datum": "MMC", "type": "nominal"}
     }},
    {"data": {"name": "wlab"}, "mark": {"type": "text", "align": "left", "baseline": "middle", "fontSize": 6.8},
     "encoding": {
      "x": {"field": "x", "type": "quantitative"},
      "y": {"field": "y", "type": "quantitative"},
      "text": {"field": "e"},
      "color": {"field": "e", "type": "nominal", "scale": {"domain": ["5 MeV","10 MeV","20 MeV","30 MeV","50 MeV","100 MeV","150 MeV","200 MeV","250 MeV"], "range": ["#e8282d","#f5a52a","#d2c62c","#2e8b2e","#33c4c6","#2f2fd6","#8c2299","#b85a5e","#8a8a8a"]}, "legend": null}
     }},
    {"data": {"values": [{"t": "1e−8"}]}, "mark": {"type": "text", "align": "left", "baseline": "bottom", "dy": -1.5, "fontSize": 5.2, "color": "#333333"},
     "encoding": {"x": {"datum": 0}, "y": {"datum": 4.893}, "text": {"field": "t"}}}
   ],
   "resolve": {"scale": {"color": "independent"}}
  },
  {"width": 251, "height": 136, "title": "Bone (pencil beam)",
   "layer": [
    {"data": {"name": "bdd"}, "mark": {"type": "line", "strokeWidth": 1.4, "clip": true},
     "encoding": {
      "x": {"field": "x", "type": "quantitative", "scale": {"domain": [0, 40], "nice": false, "zero": false}, "axis": {"title": "Depth [cm]", "values": [5, 10, 15, 20, 25, 30, 35]}},
      "y": {"field": "y", "type": "quantitative", "scale": {"domain": [-0.243, 5.103], "nice": false, "zero": false}, "axis": {"title": "Dose per particle [Gy]", "values": [0, 1, 2, 3, 4, 5]}},
      "color": {"field": "e", "type": "nominal", "scale": {"domain": ["5 MeV","10 MeV","20 MeV","30 MeV","50 MeV","100 MeV","150 MeV","200 MeV","250 MeV"], "range": ["#e8282d","#f5a52a","#d2c62c","#2e8b2e","#33c4c6","#2f2fd6","#8c2299","#b85a5e","#8a8a8a"]}, "legend": null},
      "strokeDash": {"datum": "EGSnrc", "type": "nominal", "scale": {"domain": ["EGSnrc", "MMC"], "range": [[1, 0], [3, 2]]}, "legend": {"title": null, "orient": "top-right", "offset": 1}}
     }},
    {"data": {"name": "bdd"}, "mark": {"type": "line", "strokeWidth": 0.9, "clip": true},
     "encoding": {
      "x": {"field": "x", "type": "quantitative"},
      "y": {"field": "y", "type": "quantitative"},
      "color": {"field": "e", "type": "nominal", "scale": {"domain": ["5 MeV","10 MeV","20 MeV","30 MeV","50 MeV","100 MeV","150 MeV","200 MeV","250 MeV"], "range": ["#a8141a","#b8770f","#958c12","#1a5c1a","#1a8a8c","#161690","#5c0f68","#823a3e","#4f4f4f"]}, "legend": null},
      "strokeDash": {"datum": "MMC", "type": "nominal"}
     }},
    {"data": {"name": "blab"}, "mark": {"type": "text", "align": "left", "baseline": "middle", "fontSize": 6.8},
     "encoding": {
      "x": {"field": "x", "type": "quantitative"},
      "y": {"field": "y", "type": "quantitative"},
      "text": {"field": "e"},
      "color": {"field": "e", "type": "nominal", "scale": {"domain": ["5 MeV","10 MeV","20 MeV","30 MeV","50 MeV","100 MeV","150 MeV","200 MeV","250 MeV"], "range": ["#e8282d","#f5a52a","#d2c62c","#2e8b2e","#33c4c6","#2f2fd6","#8c2299","#b85a5e","#8a8a8a"]}, "legend": null}
     }},
    {"data": {"values": [{"t": "1e−8"}]}, "mark": {"type": "text", "align": "left", "baseline": "bottom", "dy": -1.5, "fontSize": 5.2, "color": "#333333"},
     "encoding": {"x": {"datum": 0}, "y": {"datum": 5.103}, "text": {"field": "t"}}}
   ],
   "resolve": {"scale": {"color": "independent"}}
  }
 ], "spacing": 6.4, "resolve": {"scale": {"color": "independent", "strokeDash": "independent"}, "legend": {"color": "independent", "strokeDash": "independent"}}},
 {"hconcat": [
  {"width": 251, "height": 69.5,
   "layer": [
    {"data": {"name": "wdf"}, "mark": {"type": "line", "strokeWidth": 0.9, "clip": true},
     "encoding": {
      "x": {"field": "x", "type": "quantitative", "scale": {"domain": [0, 40], "nice": false, "zero": false}, "axis": {"title": "Depth [cm]", "values": [5, 10, 15, 20, 25, 30, 35]}},
      "y": {"field": "y", "type": "quantitative", "scale": {"domain": [-5, 5], "nice": false}, "axis": {"title": "Dose difference [%]", "values": [-4, -2, 0, 2, 4]}},
      "color": {"field": "e", "type": "nominal", "scale": {"domain": ["5 MeV","10 MeV","20 MeV","30 MeV","50 MeV","100 MeV","150 MeV","200 MeV","250 MeV"], "range": ["#e8282d","#f5a52a","#d2c62c","#2e8b2e","#33c4c6","#2f2fd6","#8c2299","#b85a5e","#8a8a8a"]}, "legend": null}
     }},
    {"data": {"values": [{"y": 2}, {"y": -2}]}, "mark": {"type": "rule", "strokeDash": [3, 2], "strokeWidth": 1.1},
     "encoding": {
      "y": {"field": "y", "type": "quantitative"},
      "color": {"datum": "MMC - EGSnrc", "type": "nominal", "scale": {"range": ["#555555"]}, "legend": {"title": null, "orient": "top-right", "offset": 2, "symbolOpacity": 0, "symbolSize": 0, "labelOffset": 0}}
     }}
   ],
   "resolve": {"scale": {"color": "independent"}}
  },
  {"width": 251, "height": 69.5,
   "layer": [
    {"data": {"name": "bdf"}, "mark": {"type": "line", "strokeWidth": 0.9, "clip": true},
     "encoding": {
      "x": {"field": "x", "type": "quantitative", "scale": {"domain": [0, 40], "nice": false, "zero": false}, "axis": {"title": "Depth [cm]", "values": [5, 10, 15, 20, 25, 30, 35]}},
      "y": {"field": "y", "type": "quantitative", "scale": {"domain": [-5, 5], "nice": false}, "axis": {"title": "Dose difference [%]", "values": [-4, -2, 0, 2, 4]}},
      "color": {"field": "e", "type": "nominal", "scale": {"domain": ["5 MeV","10 MeV","20 MeV","30 MeV","50 MeV","100 MeV","150 MeV","200 MeV","250 MeV"], "range": ["#e8282d","#f5a52a","#d2c62c","#2e8b2e","#33c4c6","#2f2fd6","#8c2299","#b85a5e","#8a8a8a"]}, "legend": null}
     }},
    {"data": {"values": [{"y": 2}, {"y": -2}]}, "mark": {"type": "rule", "strokeDash": [3, 2], "strokeWidth": 1.1},
     "encoding": {
      "y": {"field": "y", "type": "quantitative"},
      "color": {"datum": "MMC - EGSnrc", "type": "nominal", "scale": {"range": ["#555555"]}, "legend": {"title": null, "orient": "top-right", "offset": 2, "symbolOpacity": 0, "symbolSize": 0, "labelOffset": 0}}
     }}
   ],
   "resolve": {"scale": {"color": "independent"}}
  }
 ], "spacing": 6.4, "resolve": {"scale": {"color": "independent", "strokeDash": "independent"}, "legend": {"color": "independent", "strokeDash": "independent"}}},
 {"hconcat": [
  {"width": 251, "height": 136.4, "title": "Water, 250 MeV (square beam, 5 x 5 cm² field size)",
   "layer": [
    {"data": {"name": "wpr"}, "mark": {"type": "line", "strokeWidth": 1.4, "clip": true},
     "encoding": {
      "x": {"field": "x", "type": "quantitative", "scale": {"domain": [-5, 5], "nice": false, "zero": false}, "axis": {"title": "Off axis distance [cm]", "values": [-4, -2, 0, 2, 4]}},
      "y": {"field": "y", "type": "quantitative", "scale": {"domain": [-0.08, 1.78], "nice": false, "zero": false}, "axis": {"title": "Dose per particle [Gy]", "values": [0, 0.25, 0.5, 0.75, 1, 1.25, 1.5, 1.75], "format": ".2f"}},
      "color": {"field": "e", "type": "nominal", "scale": {"domain": ["10 cm","15 cm","20 cm","25 cm","30 cm"], "range": ["#e8282d","#f5a52a","#d2c62c","#2e8b2e","#33c4c6"]},
       "legend": {"title": "Depths:", "orient": "top-right", "offset": 1.5, "symbolOpacity": 0, "symbolSize": 0, "symbolStrokeWidth": 0, "labelOffset": 0.5, "rowPadding": 0.5,
        "encode": {"labels": {"update": {"fill": {"signal": "datum.value==='10 cm'?'#e8282d':datum.value==='15 cm'?'#f5a52a':datum.value==='20 cm'?'#d2c62c':datum.value==='25 cm'?'#2e8b2e':'#33c4c6'"}}}}}},
      "strokeDash": {"datum": "EGSnrc", "type": "nominal", "scale": {"domain": ["EGSnrc", "MMC"], "range": [[1, 0], [3, 2]]}, "legend": {"title": null, "orient": "top-left", "offset": 2}}
     }},
    {"data": {"name": "wpr"}, "mark": {"type": "line", "strokeWidth": 0.9, "clip": true},
     "encoding": {
      "x": {"field": "x", "type": "quantitative"},
      "y": {"field": "y", "type": "quantitative"},
      "color": {"field": "e", "type": "nominal", "scale": {"domain": ["10 cm","15 cm","20 cm","25 cm","30 cm"], "range": ["#a8141a","#b8770f","#958c12","#1a5c1a","#1a8a8c"]}, "legend": null},
      "strokeDash": {"datum": "MMC", "type": "nominal"}
     }},
    {"data": {"values": [{"t": "1e−11"}]}, "mark": {"type": "text", "align": "left", "baseline": "bottom", "dy": -1.5, "fontSize": 5.2, "color": "#333333"},
     "encoding": {"x": {"datum": -5}, "y": {"datum": 1.78}, "text": {"field": "t"}}}
   ],
   "resolve": {"scale": {"color": "independent"}}
  },
  {"width": 251, "height": 136.4, "title": "Bone, 250 MeV (square beam, 5 x 5 cm² field size)",
   "layer": [
    {"data": {"name": "bpr"}, "mark": {"type": "line", "strokeWidth": 1.4, "clip": true},
     "encoding": {
      "x": {"field": "x", "type": "quantitative", "scale": {"domain": [-5, 5], "nice": false, "zero": false}, "axis": {"title": "Off axis distance [cm]", "values": [-4, -2, 0, 2, 4]}},
      "y": {"field": "y", "type": "quantitative", "scale": {"domain": [-0.09, 1.915], "nice": false, "zero": false}, "axis": {"title": "Dose per particle [Gy]", "values": [0, 0.25, 0.5, 0.75, 1, 1.25, 1.5, 1.75], "format": ".2f"}},
      "color": {"field": "e", "type": "nominal", "scale": {"domain": ["10 cm","15 cm","20 cm","25 cm","30 cm"], "range": ["#e8282d","#f5a52a","#d2c62c","#2e8b2e","#33c4c6"]},
       "legend": {"title": "Depths:", "orient": "top-right", "offset": 1.5, "symbolOpacity": 0, "symbolSize": 0, "symbolStrokeWidth": 0, "labelOffset": 0.5, "rowPadding": 0.5,
        "encode": {"labels": {"update": {"fill": {"signal": "datum.value==='10 cm'?'#e8282d':datum.value==='15 cm'?'#f5a52a':datum.value==='20 cm'?'#d2c62c':datum.value==='25 cm'?'#2e8b2e':'#33c4c6'"}}}}}},
      "strokeDash": {"datum": "EGSnrc", "type": "nominal", "scale": {"domain": ["EGSnrc", "MMC"], "range": [[1, 0], [3, 2]]}, "legend": {"title": null, "orient": "top-left", "offset": 2}}
     }},
    {"data": {"name": "bpr"}, "mark": {"type": "line", "strokeWidth": 0.9, "clip": true},
     "encoding": {
      "x": {"field": "x", "type": "quantitative"},
      "y": {"field": "y", "type": "quantitative"},
      "color": {"field": "e", "type": "nominal", "scale": {"domain": ["10 cm","15 cm","20 cm","25 cm","30 cm"], "range": ["#a8141a","#b8770f","#958c12","#1a5c1a","#1a8a8c"]}, "legend": null},
      "strokeDash": {"datum": "MMC", "type": "nominal"}
     }},
    {"data": {"values": [{"t": "1e−11"}]}, "mark": {"type": "text", "align": "left", "baseline": "bottom", "dy": -1.5, "fontSize": 5.2, "color": "#333333"},
     "encoding": {"x": {"datum": -5}, "y": {"datum": 1.915}, "text": {"field": "t"}}}
   ],
   "resolve": {"scale": {"color": "independent"}}
  }
 ], "spacing": 6.4, "resolve": {"scale": {"color": "independent", "strokeDash": "independent"}, "legend": {"color": "independent", "strokeDash": "independent"}}},
 {"hconcat": [
  {"width": 251, "height": 68.5,
   "layer": [
    {"data": {"name": "wpd"}, "mark": {"type": "line", "strokeWidth": 0.9, "clip": true},
     "encoding": {
      "x": {"field": "x", "type": "quantitative", "scale": {"domain": [-5, 5], "nice": false, "zero": false}, "axis": {"title": "Off axis distance [cm]", "values": [-4, -2, 0, 2, 4]}},
      "y": {"field": "y", "type": "quantitative", "scale": {"domain": [-5, 5], "nice": false}, "axis": {"title": "Dose difference [%]", "values": [-4, -2, 0, 2, 4]}},
      "color": {"field": "e", "type": "nominal", "scale": {"domain": ["10 cm","15 cm","20 cm","25 cm","30 cm"], "range": ["#e8282d","#f5a52a","#d2c62c","#2e8b2e","#33c4c6"]}, "legend": null}
     }},
    {"data": {"values": [{"y": 2}, {"y": -2}]}, "mark": {"type": "rule", "strokeDash": [3, 2], "strokeWidth": 1.1},
     "encoding": {
      "y": {"field": "y", "type": "quantitative"},
      "color": {"datum": "MMC - EGSnrc", "type": "nominal", "scale": {"range": ["#555555"]}, "legend": {"title": null, "orient": "top-right", "offset": 2, "symbolOpacity": 0, "symbolSize": 0, "labelOffset": 0}}
     }}
   ],
   "resolve": {"scale": {"color": "independent"}}
  },
  {"width": 251, "height": 68.5,
   "layer": [
    {"data": {"name": "bpd"}, "mark": {"type": "line", "strokeWidth": 0.9, "clip": true},
     "encoding": {
      "x": {"field": "x", "type": "quantitative", "scale": {"domain": [-5, 5], "nice": false, "zero": false}, "axis": {"title": "Off axis distance [cm]", "values": [-4, -2, 0, 2, 4]}},
      "y": {"field": "y", "type": "quantitative", "scale": {"domain": [-5, 5], "nice": false}, "axis": {"title": "Dose difference [%]", "values": [-4, -2, 0, 2, 4]}},
      "color": {"field": "e", "type": "nominal", "scale": {"domain": ["10 cm","15 cm","20 cm","25 cm","30 cm"], "range": ["#e8282d","#f5a52a","#d2c62c","#2e8b2e","#33c4c6"]}, "legend": null}
     }},
    {"data": {"values": [{"y": 2}, {"y": -2}]}, "mark": {"type": "rule", "strokeDash": [3, 2], "strokeWidth": 1.1},
     "encoding": {
      "y": {"field": "y", "type": "quantitative"},
      "color": {"datum": "MMC - EGSnrc", "type": "nominal", "scale": {"range": ["#555555"]}, "legend": {"title": null, "orient": "top-right", "offset": 2, "symbolOpacity": 0, "symbolSize": 0, "labelOffset": 0}}
     }}
   ],
   "resolve": {"scale": {"color": "independent"}}
  }
 ], "spacing": 6.4, "resolve": {"scale": {"color": "independent", "strokeDash": "independent"}, "legend": {"color": "independent", "strokeDash": "independent"}}}
]
}
